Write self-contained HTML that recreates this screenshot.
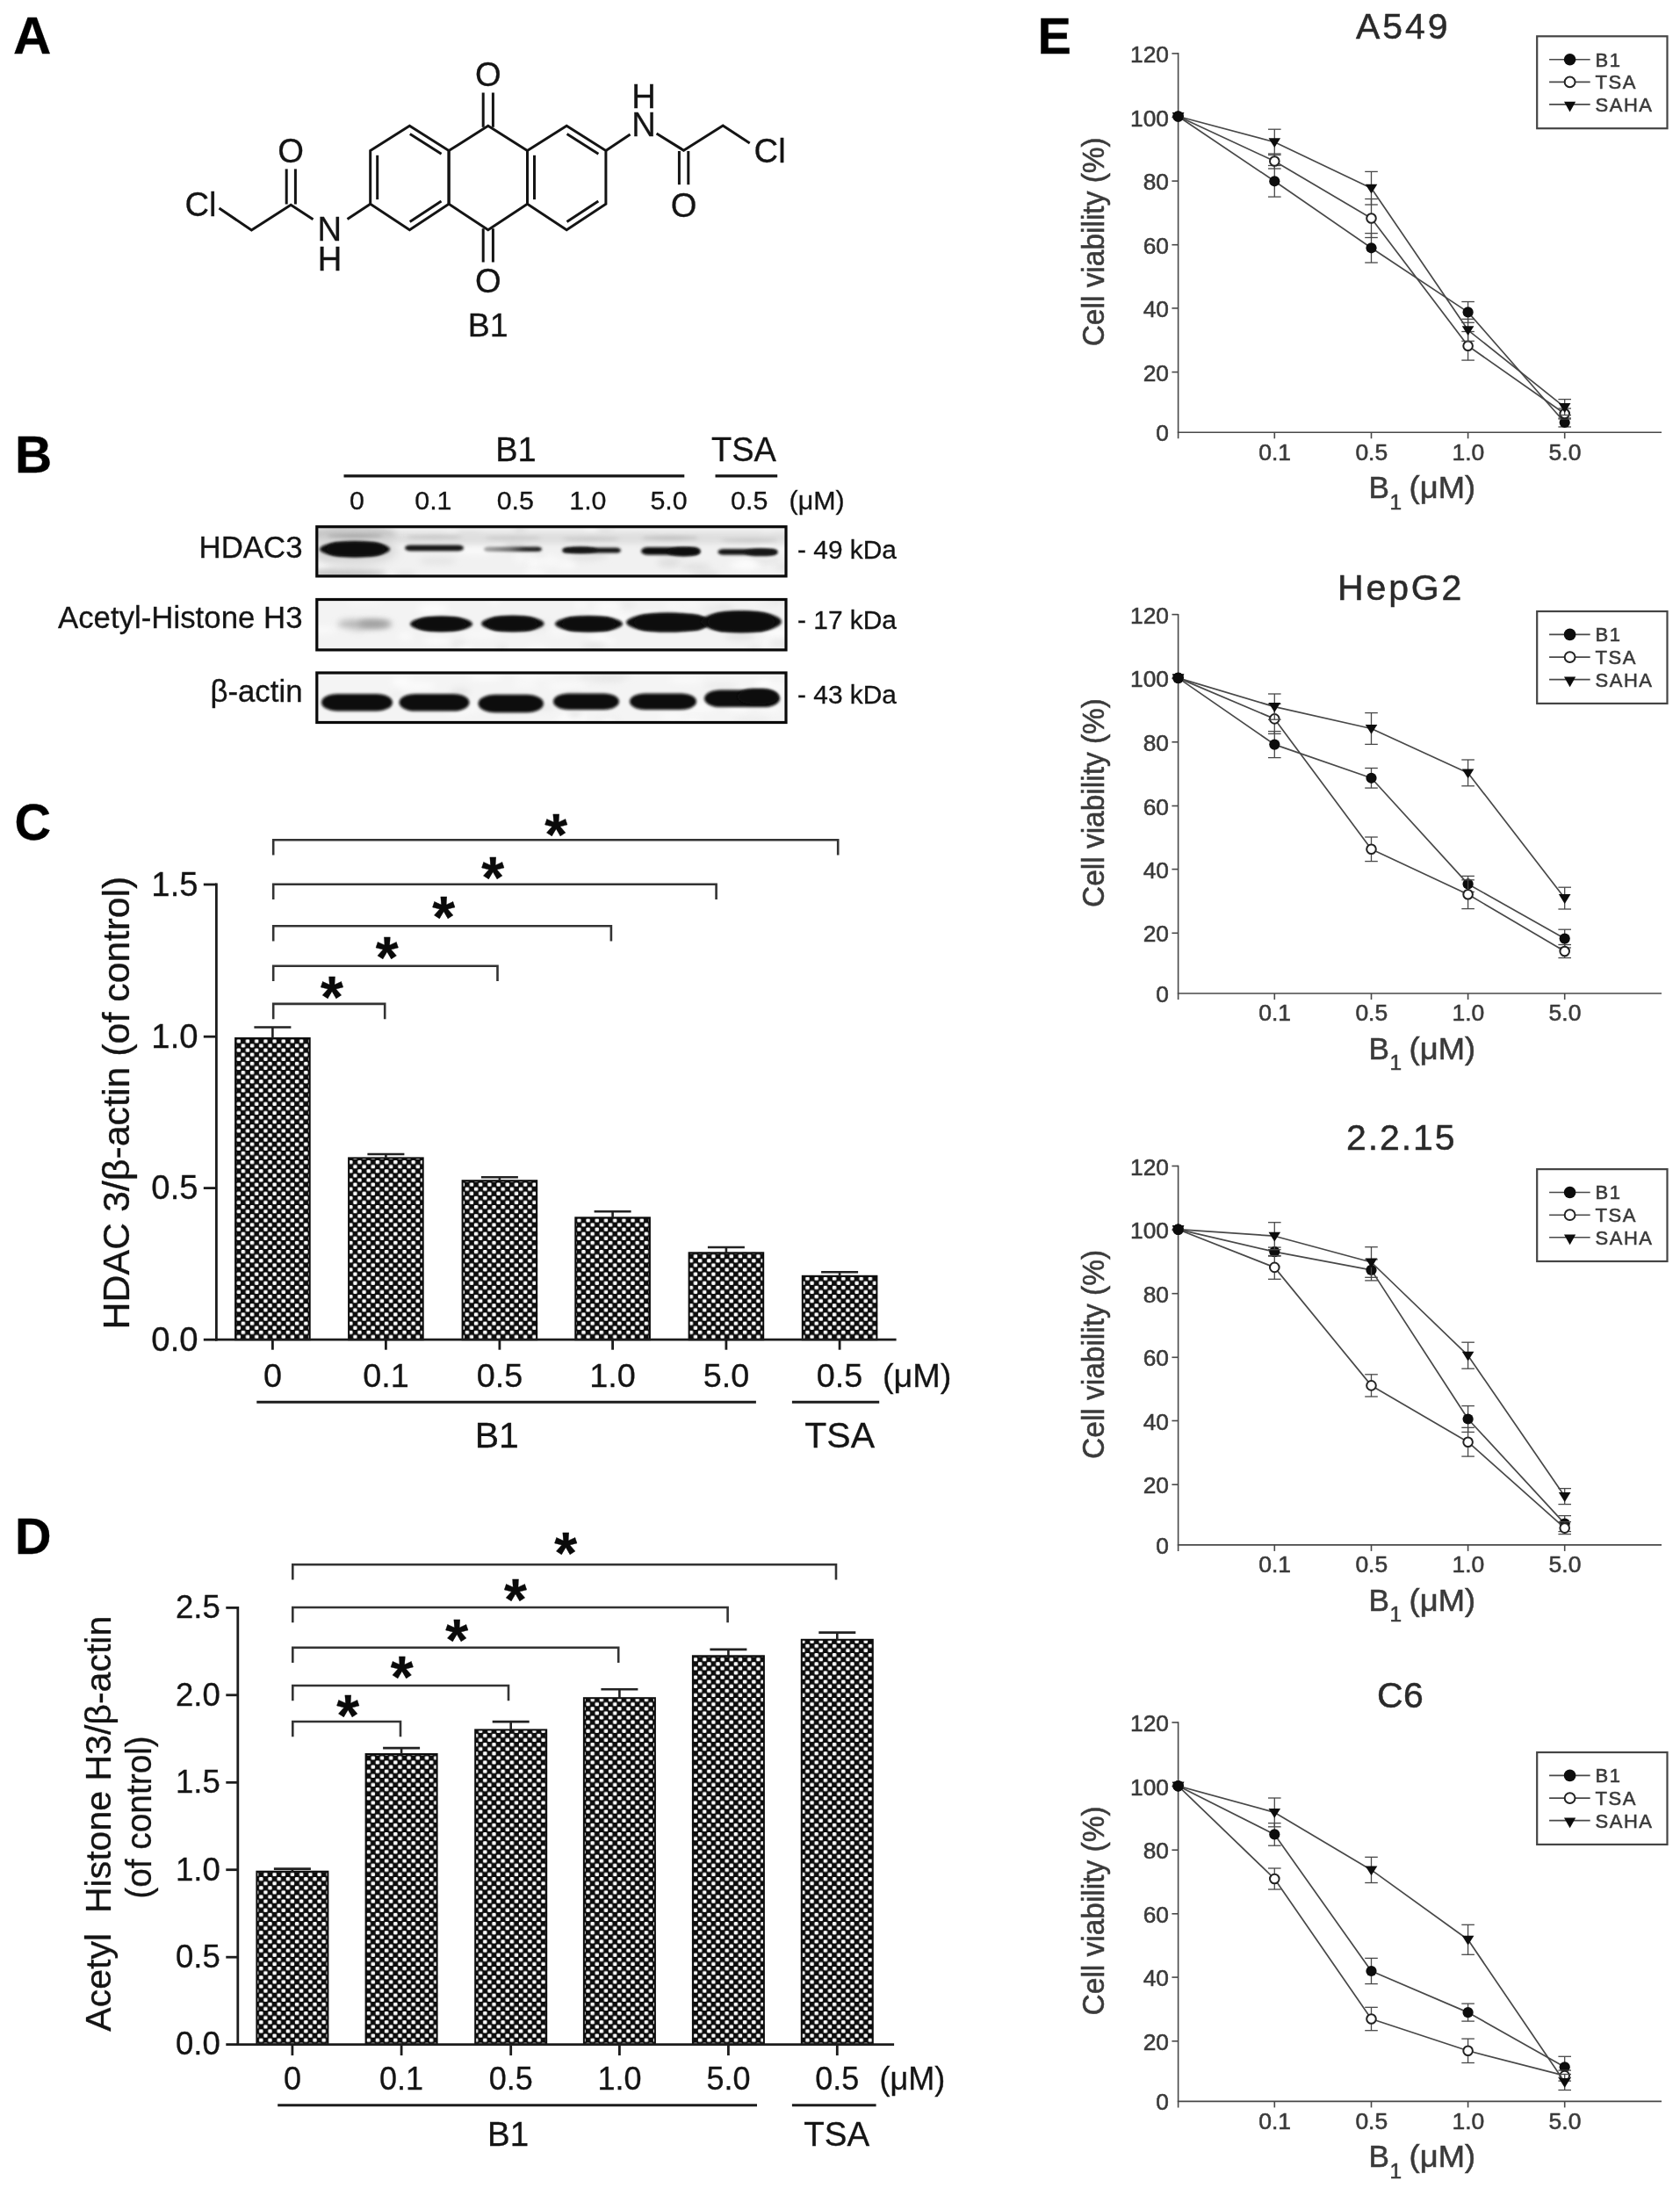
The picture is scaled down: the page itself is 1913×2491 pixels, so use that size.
<!DOCTYPE html>
<html lang="en"><head><meta charset="utf-8"><title>Figure</title>
<style>
html,body{margin:0;padding:0;background:#fff;}
body{width:1913px;height:2491px;overflow:hidden;}
svg{display:block;font-family:"Liberation Sans", sans-serif;}
</style></head><body>
<svg width="1913" height="2491" viewBox="0 0 1913 2491">
<defs>
<linearGradient id="gb3" x1="0" x2="1" y1="0" y2="0"><stop offset="0" stop-color="#a8a8a8"/><stop offset="0.45" stop-color="#707070"/><stop offset="0.7" stop-color="#2a2a2a"/><stop offset="1" stop-color="#222"/></linearGradient>
<filter id="soft" x="0" y="0" width="100%" height="100%" filterUnits="userSpaceOnUse" color-interpolation-filters="sRGB"><feGaussianBlur stdDeviation="0.55"/></filter>
<filter id="blur15" x="-20%" y="-100%" width="140%" height="300%"><feGaussianBlur stdDeviation="1.5"/></filter>
<filter id="blur16" x="-20%" y="-100%" width="140%" height="300%"><feGaussianBlur stdDeviation="1.6"/></filter>
<filter id="blur17" x="-20%" y="-100%" width="140%" height="300%"><feGaussianBlur stdDeviation="1.7"/></filter>
<filter id="blur18" x="-20%" y="-100%" width="140%" height="300%"><feGaussianBlur stdDeviation="1.8"/></filter>
<filter id="blur20" x="-20%" y="-100%" width="140%" height="300%"><feGaussianBlur stdDeviation="2.0"/></filter>
<filter id="blur22" x="-20%" y="-100%" width="140%" height="300%"><feGaussianBlur stdDeviation="2.2"/></filter>
<filter id="blur35" x="-20%" y="-100%" width="140%" height="300%"><feGaussianBlur stdDeviation="3.5"/></filter>
<filter id="blur60" x="-20%" y="-100%" width="140%" height="300%"><feGaussianBlur stdDeviation="6.0"/></filter>
<pattern id="chk" x="269.25" y="1182.85" width="10.2" height="10.2" patternUnits="userSpaceOnUse"><rect width="10.2" height="10.2" fill="#0d0d0d"/><rect x="0.35" y="0.35" width="4.4" height="4.4" rx="1.3" fill="#fafafa"/><rect x="5.45" y="5.45" width="4.4" height="4.4" rx="1.3" fill="#fafafa"/></pattern>
</defs>
<rect width="1913" height="2491" fill="#fff"/>
<g filter="url(#soft)">
<text x="15.0" y="61.2" font-size="60" text-anchor="start" font-weight="bold" fill="#000" stroke="#000" stroke-width="0.3" >A</text>
<g stroke="#141414" stroke-width="3.0" stroke-linecap="butt" stroke-linejoin="miter" stroke-miterlimit="6" fill="none">
<path d="M421.7 171.6 L466.4 143.3 L511.1 171.6 L511.1 232.3 L466.4 261.7 L421.7 232.3 Z"/>
<path d="M511.1 171.6 L555.8 143.3 L600.5 171.6 L600.5 232.3 L555.8 261.7 L511.1 232.3 Z"/>
<path d="M600.5 171.6 L645.2 143.3 L689.9 171.6 L689.9 232.3 L645.2 261.7 L600.5 232.3 Z"/>
<path d="M429.7 176.8 L429.7 227.1"/>
<path d="M466.8 152.6 L502.6 175.2"/>
<path d="M466.7 252.4 L502.5 228.9"/>
<path d="M608.5 176.8 L608.5 227.1"/>
<path d="M645.6 152.6 L681.4 175.2"/>
<path d="M645.5 252.4 L681.3 228.9"/>
<path d="M550.2 144.8 L550.2 105.5"/>
<path d="M561.4 144.8 L561.4 105.5"/>
<path d="M550.2 260.2 L550.2 298.5"/>
<path d="M561.4 260.2 L561.4 298.5"/>
<path d="M421.7 232.3 L395.5 249.5"/>
<path d="M356.5 249.8 L331.2 233.2 L286.4 262.0 L249.5 237.0"/>
<path d="M326.2 232.5 L326.2 192.4"/>
<path d="M336.4 232.5 L336.4 192.4"/>
<path d="M689.9 171.6 L717.6 153.0"/>
<path d="M747.6 152.0 L778.5 171.2 L823.2 143.0 L853.7 163.0"/>
<path d="M773.4 172.0 L773.4 210.2"/>
<path d="M783.8 172.0 L783.8 210.2"/>
</g>
<text x="555.8" y="97.7" font-size="38.2" text-anchor="middle" font-weight="normal" fill="#141414" stroke="#141414" stroke-width="0.3" >O</text>
<text x="555.8" y="332.5" font-size="38.2" text-anchor="middle" font-weight="normal" fill="#141414" stroke="#141414" stroke-width="0.3" >O</text>
<text x="331.0" y="184.7" font-size="38.2" text-anchor="middle" font-weight="normal" fill="#141414" stroke="#141414" stroke-width="0.3" >O</text>
<text x="375.4" y="274.1" font-size="38.2" text-anchor="middle" font-weight="normal" fill="#141414" stroke="#141414" stroke-width="0.3" >N</text>
<text x="375.6" y="307.9" font-size="38.2" text-anchor="middle" font-weight="normal" fill="#141414" stroke="#141414" stroke-width="0.3" >H</text>
<text x="228.5" y="245.5" font-size="38.2" text-anchor="middle" font-weight="normal" fill="#141414" stroke="#141414" stroke-width="0.3" >Cl</text>
<text x="733.0" y="155.1" font-size="38.2" text-anchor="middle" font-weight="normal" fill="#141414" stroke="#141414" stroke-width="0.3" >N</text>
<text x="733.0" y="122.7" font-size="38.2" text-anchor="middle" font-weight="normal" fill="#141414" stroke="#141414" stroke-width="0.3" >H</text>
<text x="778.5" y="246.7" font-size="38.2" text-anchor="middle" font-weight="normal" fill="#141414" stroke="#141414" stroke-width="0.3" >O</text>
<text x="876.6" y="184.6" font-size="38.2" text-anchor="middle" font-weight="normal" fill="#141414" stroke="#141414" stroke-width="0.3" >Cl</text>
<text x="555.6" y="382.8" font-size="37.5" text-anchor="middle" font-weight="normal" fill="#141414" stroke="#141414" stroke-width="0.3" >B1</text>
<text x="17.0" y="537.8" font-size="58.5" text-anchor="start" font-weight="bold" fill="#000" stroke="#000" stroke-width="0.3" >B</text>
<text x="587.5" y="525.0" font-size="38" text-anchor="middle" font-weight="normal" fill="#141414" stroke="#141414" stroke-width="0.3" >B1</text>
<text x="847.0" y="525.0" font-size="38" text-anchor="middle" font-weight="normal" fill="#141414" stroke="#141414" stroke-width="0.3" >TSA</text>
<line x1="391.5" y1="541.9" x2="779.3" y2="541.9" stroke="#141414" stroke-width="3.2" stroke-linecap="butt"/>
<line x1="814.5" y1="541.9" x2="885.2" y2="541.9" stroke="#141414" stroke-width="3.2" stroke-linecap="butt"/>
<text x="406.4" y="579.5" font-size="30.4" text-anchor="middle" font-weight="normal" fill="#141414" stroke="#141414" stroke-width="0.3" >0</text>
<text x="493.4" y="579.5" font-size="30.4" text-anchor="middle" font-weight="normal" fill="#141414" stroke="#141414" stroke-width="0.3" >0.1</text>
<text x="586.8" y="579.5" font-size="30.4" text-anchor="middle" font-weight="normal" fill="#141414" stroke="#141414" stroke-width="0.3" >0.5</text>
<text x="669.4" y="579.5" font-size="30.4" text-anchor="middle" font-weight="normal" fill="#141414" stroke="#141414" stroke-width="0.3" >1.0</text>
<text x="761.5" y="579.5" font-size="30.4" text-anchor="middle" font-weight="normal" fill="#141414" stroke="#141414" stroke-width="0.3" >5.0</text>
<text x="853.2" y="579.5" font-size="30.4" text-anchor="middle" font-weight="normal" fill="#141414" stroke="#141414" stroke-width="0.3" >0.5</text>
<text x="898.6" y="579.5" font-size="30.4" text-anchor="start" font-weight="normal" fill="#141414" stroke="#141414" stroke-width="0.3" >(μM)</text>
<text x="344.5" y="635.4" font-size="34.8" text-anchor="end" font-weight="normal" fill="#141414" stroke="#141414" stroke-width="0.3" >HDAC3</text>
<text x="344.5" y="715.3" font-size="34.8" text-anchor="end" font-weight="normal" fill="#141414" stroke="#141414" stroke-width="0.3" >Acetyl-Histone H3</text>
<text x="344.5" y="798.9" font-size="34.8" text-anchor="end" font-weight="normal" fill="#141414" stroke="#141414" stroke-width="0.3" >β-actin</text>
<text x="908.0" y="635.5" font-size="29.9" text-anchor="start" font-weight="normal" fill="#141414" stroke="#141414" stroke-width="0.3" >- 49 kDa</text>
<text x="908.0" y="716.2" font-size="29.9" text-anchor="start" font-weight="normal" fill="#141414" stroke="#141414" stroke-width="0.3" >- 17 kDa</text>
<text x="908.0" y="801.2" font-size="29.9" text-anchor="start" font-weight="normal" fill="#141414" stroke="#141414" stroke-width="0.3" >- 43 kDa</text>
<clipPath id="clipb1"><rect x="359.2" y="598.1" width="537.4000000000001" height="59.4"/></clipPath>
<clipPath id="clipb2"><rect x="359.2" y="680.9" width="537.4000000000001" height="60.6"/></clipPath>
<clipPath id="clipb3"><rect x="359.2" y="764.4" width="537.4000000000001" height="59.7"/></clipPath>
<rect x="359.2" y="598.1" width="537.4" height="59.4" fill="#f1f1f1"/>
<g clip-path="url(#clipb1)">
<ellipse cx="533.2" cy="608.5" rx="16.4" ry="2.8" fill="#dedede" filter="url(#blur35)"/>
<ellipse cx="409.8" cy="632.4" rx="20.6" ry="3.3" fill="#fafafa" filter="url(#blur35)"/>
<ellipse cx="592.2" cy="604.0" rx="7.5" ry="4.0" fill="#dedede" filter="url(#blur35)"/>
<ellipse cx="425.7" cy="612.5" rx="16.0" ry="5.8" fill="#dedede" filter="url(#blur35)"/>
<ellipse cx="673.9" cy="602.8" rx="9.5" ry="4.4" fill="#fcfcfc" filter="url(#blur35)"/>
<ellipse cx="514.8" cy="608.1" rx="7.9" ry="3.6" fill="#fcfcfc" filter="url(#blur35)"/>
<ellipse cx="414.6" cy="631.7" rx="9.0" ry="2.8" fill="#fafafa" filter="url(#blur35)"/>
<ellipse cx="662.5" cy="634.4" rx="13.9" ry="4.4" fill="#e4e4e4" filter="url(#blur35)"/>
<ellipse cx="609.4" cy="651.3" rx="11.8" ry="3.4" fill="#fcfcfc" filter="url(#blur35)"/>
<ellipse cx="734.8" cy="613.6" rx="15.2" ry="4.3" fill="#e4e4e4" filter="url(#blur35)"/>
<ellipse cx="751.2" cy="616.1" rx="21.7" ry="2.9" fill="#f7f7f7" filter="url(#blur35)"/>
<ellipse cx="447.9" cy="619.0" rx="20.9" ry="4.0" fill="#fafafa" filter="url(#blur35)"/>
<ellipse cx="770.1" cy="631.8" rx="20.0" ry="3.6" fill="#e4e4e4" filter="url(#blur35)"/>
<ellipse cx="678.6" cy="632.2" rx="13.3" ry="5.4" fill="#e4e4e4" filter="url(#blur35)"/>
<ellipse cx="614.0" cy="636.9" rx="7.0" ry="5.0" fill="#dedede" filter="url(#blur35)"/>
<ellipse cx="892.9" cy="645.6" rx="10.6" ry="3.9" fill="#e4e4e4" filter="url(#blur35)"/>
<ellipse cx="371.3" cy="625.7" rx="8.7" ry="2.9" fill="#fafafa" filter="url(#blur35)"/>
<ellipse cx="476.5" cy="616.0" rx="17.8" ry="3.9" fill="#f7f7f7" filter="url(#blur35)"/>
<ellipse cx="402.5" cy="625.0" rx="14.8" ry="5.6" fill="#f7f7f7" filter="url(#blur35)"/>
<ellipse cx="823.5" cy="615.5" rx="12.6" ry="3.8" fill="#f7f7f7" filter="url(#blur35)"/>
<ellipse cx="873.9" cy="608.5" rx="8.8" ry="3.3" fill="#fcfcfc" filter="url(#blur35)"/>
<ellipse cx="365.7" cy="646.1" rx="8.9" ry="3.5" fill="#fcfcfc" filter="url(#blur35)"/>
<ellipse cx="584.3" cy="620.6" rx="15.1" ry="5.8" fill="#dedede" filter="url(#blur35)"/>
<ellipse cx="869.9" cy="636.4" rx="17.8" ry="4.1" fill="#dedede" filter="url(#blur35)"/>
<ellipse cx="570.1" cy="622.2" rx="7.7" ry="4.7" fill="#fafafa" filter="url(#blur35)"/>
<ellipse cx="461.6" cy="654.7" rx="13.1" ry="2.9" fill="#dedede" filter="url(#blur35)"/>
<ellipse cx="387.5" cy="600.1" rx="8.4" ry="2.9" fill="#e4e4e4" filter="url(#blur35)"/>
<ellipse cx="689.0" cy="604.0" rx="9.3" ry="3.8" fill="#e4e4e4" filter="url(#blur35)"/>
<ellipse cx="872.7" cy="633.5" rx="13.6" ry="2.9" fill="#f7f7f7" filter="url(#blur35)"/>
<ellipse cx="892.9" cy="625.9" rx="13.7" ry="2.8" fill="#fafafa" filter="url(#blur35)"/>
<ellipse cx="762.1" cy="641.1" rx="13.7" ry="4.9" fill="#dedede" filter="url(#blur35)"/>
<ellipse cx="371.6" cy="652.8" rx="14.5" ry="3.0" fill="#dedede" filter="url(#blur35)"/>
<ellipse cx="850.5" cy="642.1" rx="10.8" ry="4.8" fill="#fafafa" filter="url(#blur35)"/>
<ellipse cx="733.3" cy="614.6" rx="11.9" ry="3.1" fill="#fcfcfc" filter="url(#blur35)"/>
<ellipse cx="645.4" cy="643.3" rx="11.3" ry="3.3" fill="#fcfcfc" filter="url(#blur35)"/>
<ellipse cx="792.4" cy="645.4" rx="17.8" ry="3.3" fill="#dedede" filter="url(#blur35)"/>
<ellipse cx="624.0" cy="640.6" rx="21.8" ry="5.3" fill="#f7f7f7" filter="url(#blur35)"/>
<ellipse cx="498.5" cy="638.5" rx="21.3" ry="4.1" fill="#e4e4e4" filter="url(#blur35)"/>
<ellipse cx="872.4" cy="620.3" rx="9.5" ry="3.3" fill="#fcfcfc" filter="url(#blur35)"/>
<ellipse cx="540.7" cy="626.8" rx="21.8" ry="4.6" fill="#fafafa" filter="url(#blur35)"/>
<ellipse cx="616.9" cy="636.3" rx="18.8" ry="2.8" fill="#fafafa" filter="url(#blur35)"/>
<ellipse cx="848.1" cy="643.4" rx="18.0" ry="4.2" fill="#fcfcfc" filter="url(#blur35)"/>
<ellipse cx="592.4" cy="635.3" rx="7.4" ry="5.8" fill="#f7f7f7" filter="url(#blur35)"/>
<ellipse cx="608.1" cy="641.3" rx="7.4" ry="3.1" fill="#fcfcfc" filter="url(#blur35)"/>
<ellipse cx="374.0" cy="632.8" rx="13.4" ry="4.8" fill="#dedede" filter="url(#blur35)"/>
<ellipse cx="803.4" cy="654.4" rx="16.5" ry="3.7" fill="#dedede" filter="url(#blur35)"/>
<rect x="350.0" y="606.0" width="550.0" height="13.0" rx="12.3" ry="6.5" fill="#dedede" filter="url(#blur35)"/>
<ellipse cx="401.0" cy="608.0" rx="51.0" ry="8.0" fill="#c4c4c4" filter="url(#blur35)"/>
<ellipse cx="396.0" cy="653.0" rx="44.0" ry="5.0" fill="#c2c2c2" filter="url(#blur35)"/>
<ellipse cx="404.0" cy="626.0" rx="48.0" ry="17.0" fill="#d6d6d6" filter="url(#blur60)"/>
<ellipse cx="404.0" cy="610.0" rx="32.0" ry="2.2" fill="#a6a6a6" filter="url(#blur22)"/>
<ellipse cx="494.5" cy="611.5" rx="32.5" ry="2.0" fill="#c6c6c6" filter="url(#blur22)"/>
<ellipse cx="584.5" cy="612.5" rx="32.5" ry="2.0" fill="#cacaca" filter="url(#blur22)"/>
<ellipse cx="673.0" cy="613.5" rx="33.0" ry="2.0" fill="#c8c8c8" filter="url(#blur22)"/>
<ellipse cx="763.0" cy="612.5" rx="33.0" ry="2.2" fill="#c0c0c0" filter="url(#blur22)"/>
<ellipse cx="853.0" cy="615.0" rx="33.0" ry="2.0" fill="#c8c8c8" filter="url(#blur22)"/>
<ellipse cx="404.0" cy="625.2" rx="40.0" ry="9.2" fill="#0a0a0a" filter="url(#blur16)"/>
<rect x="372.0" y="618.0" width="66.0" height="14.5" rx="13.8" ry="7.2" fill="#0a0a0a" filter="url(#blur16)"/>
<rect x="461.0" y="620.6" width="67.0" height="6.6" rx="6.3" ry="3.3" fill="#141414" filter="url(#blur15)"/>
<rect x="551.0" y="622.4" width="66.0" height="5.6" rx="5.3" ry="2.8" fill="url(#gb3)" filter="url(#blur15)"/>
<rect x="640.0" y="623.6" width="67.0" height="6.0" rx="5.7" ry="3.0" fill="#161616" filter="url(#blur15)"/>
<ellipse cx="661.0" cy="626.2" rx="19.0" ry="3.6" fill="#161616" filter="url(#blur15)"/>
<rect x="730.0" y="623.1" width="67.5" height="8.6" rx="8.2" ry="4.3" fill="#0c0c0c" filter="url(#blur15)"/>
<ellipse cx="778.5" cy="628.2" rx="18.5" ry="5.0" fill="#0c0c0c" filter="url(#blur15)"/>
<rect x="817.5" y="625.1" width="68.0" height="6.6" rx="6.3" ry="3.3" fill="#121212" filter="url(#blur15)"/>
<ellipse cx="866.5" cy="628.8" rx="18.5" ry="4.0" fill="#121212" filter="url(#blur15)"/>
</g>
<rect x="360.8" y="599.7" width="534.2" height="56.2" fill="none" stroke="#0a0a0a" stroke-width="3.2"/>
<rect x="359.2" y="680.9" width="537.4" height="60.6" fill="#f3f3f3"/>
<g clip-path="url(#clipb2)">
<ellipse cx="602.3" cy="714.6" rx="20.8" ry="4.1" fill="#e9e9e9" filter="url(#blur35)"/>
<ellipse cx="818.7" cy="693.6" rx="18.9" ry="4.2" fill="#e9e9e9" filter="url(#blur35)"/>
<ellipse cx="785.3" cy="688.2" rx="10.9" ry="2.8" fill="#fafafa" filter="url(#blur35)"/>
<ellipse cx="679.2" cy="705.3" rx="13.2" ry="5.1" fill="#fcfcfc" filter="url(#blur35)"/>
<ellipse cx="694.1" cy="730.0" rx="7.0" ry="2.6" fill="#fcfcfc" filter="url(#blur35)"/>
<ellipse cx="681.4" cy="726.9" rx="11.2" ry="4.6" fill="#fcfcfc" filter="url(#blur35)"/>
<ellipse cx="638.2" cy="719.1" rx="14.0" ry="4.8" fill="#f8f8f8" filter="url(#blur35)"/>
<ellipse cx="711.1" cy="705.9" rx="14.8" ry="5.8" fill="#fafafa" filter="url(#blur35)"/>
<ellipse cx="739.6" cy="700.7" rx="9.7" ry="3.5" fill="#fafafa" filter="url(#blur35)"/>
<ellipse cx="661.8" cy="689.0" rx="7.7" ry="3.5" fill="#fafafa" filter="url(#blur35)"/>
<ellipse cx="874.1" cy="730.9" rx="6.0" ry="3.2" fill="#fafafa" filter="url(#blur35)"/>
<ellipse cx="611.8" cy="738.4" rx="12.4" ry="2.8" fill="#fcfcfc" filter="url(#blur35)"/>
<ellipse cx="777.6" cy="698.2" rx="7.4" ry="3.7" fill="#f8f8f8" filter="url(#blur35)"/>
<ellipse cx="766.6" cy="689.6" rx="9.9" ry="2.9" fill="#fafafa" filter="url(#blur35)"/>
<ellipse cx="609.1" cy="710.5" rx="16.9" ry="3.2" fill="#e9e9e9" filter="url(#blur35)"/>
<ellipse cx="461.7" cy="724.3" rx="8.1" ry="4.8" fill="#fafafa" filter="url(#blur35)"/>
<ellipse cx="571.4" cy="738.9" rx="6.0" ry="5.5" fill="#e9e9e9" filter="url(#blur35)"/>
<ellipse cx="522.6" cy="733.0" rx="9.4" ry="3.9" fill="#e9e9e9" filter="url(#blur35)"/>
<ellipse cx="704.1" cy="688.6" rx="21.8" ry="3.2" fill="#e6e6e6" filter="url(#blur35)"/>
<ellipse cx="364.3" cy="717.4" rx="19.3" ry="3.9" fill="#fafafa" filter="url(#blur35)"/>
<ellipse cx="407.6" cy="715.9" rx="9.9" ry="4.6" fill="#e6e6e6" filter="url(#blur35)"/>
<ellipse cx="693.5" cy="690.1" rx="15.4" ry="5.4" fill="#fcfcfc" filter="url(#blur35)"/>
<ellipse cx="824.9" cy="693.2" rx="8.5" ry="5.7" fill="#e9e9e9" filter="url(#blur35)"/>
<ellipse cx="493.3" cy="693.6" rx="17.8" ry="5.8" fill="#fcfcfc" filter="url(#blur35)"/>
<ellipse cx="728.4" cy="704.9" rx="13.7" ry="2.8" fill="#fafafa" filter="url(#blur35)"/>
<ellipse cx="415.0" cy="685.1" rx="21.4" ry="3.3" fill="#f8f8f8" filter="url(#blur35)"/>
<ellipse cx="497.3" cy="729.5" rx="15.5" ry="3.5" fill="#fcfcfc" filter="url(#blur35)"/>
<ellipse cx="858.6" cy="738.2" rx="8.0" ry="4.2" fill="#e9e9e9" filter="url(#blur35)"/>
<ellipse cx="689.3" cy="698.8" rx="20.7" ry="3.2" fill="#fafafa" filter="url(#blur35)"/>
<ellipse cx="396.4" cy="706.2" rx="10.0" ry="2.7" fill="#e6e6e6" filter="url(#blur35)"/>
<ellipse cx="557.4" cy="715.3" rx="8.1" ry="3.8" fill="#f8f8f8" filter="url(#blur35)"/>
<ellipse cx="886.1" cy="720.1" rx="17.1" ry="4.5" fill="#fcfcfc" filter="url(#blur35)"/>
<ellipse cx="676.2" cy="735.2" rx="13.6" ry="3.8" fill="#e6e6e6" filter="url(#blur35)"/>
<ellipse cx="876.6" cy="684.1" rx="16.2" ry="4.2" fill="#e6e6e6" filter="url(#blur35)"/>
<ellipse cx="530.6" cy="739.5" rx="7.2" ry="4.4" fill="#fafafa" filter="url(#blur35)"/>
<ellipse cx="843.0" cy="724.6" rx="17.3" ry="5.3" fill="#e6e6e6" filter="url(#blur35)"/>
<ellipse cx="548.3" cy="721.7" rx="20.4" ry="5.5" fill="#f8f8f8" filter="url(#blur35)"/>
<ellipse cx="866.6" cy="684.6" rx="14.0" ry="2.6" fill="#f8f8f8" filter="url(#blur35)"/>
<ellipse cx="563.0" cy="683.6" rx="7.2" ry="2.8" fill="#fafafa" filter="url(#blur35)"/>
<ellipse cx="893.0" cy="732.7" rx="17.7" ry="3.9" fill="#e9e9e9" filter="url(#blur35)"/>
<ellipse cx="415.5" cy="710.6" rx="31.5" ry="5.0" fill="#b4b4b4" filter="url(#blur35)"/>
<ellipse cx="426.0" cy="710.2" rx="18.0" ry="4.0" fill="#9c9c9c" filter="url(#blur35)"/>
<ellipse cx="502.5" cy="710.4" rx="35.5" ry="8.8" fill="#0a0a0a" filter="url(#blur17)"/>
<rect x="474.0" y="703.6" width="57.0" height="14.0" rx="13.3" ry="7.0" fill="#0a0a0a" filter="url(#blur17)"/>
<ellipse cx="583.8" cy="710.0" rx="35.8" ry="9.2" fill="#0a0a0a" filter="url(#blur17)"/>
<rect x="555.0" y="702.7" width="57.0" height="15.0" rx="14.2" ry="7.5" fill="#0a0a0a" filter="url(#blur17)"/>
<ellipse cx="670.5" cy="710.2" rx="38.5" ry="9.2" fill="#0a0a0a" filter="url(#blur17)"/>
<rect x="640.0" y="702.9" width="61.0" height="15.0" rx="14.2" ry="7.5" fill="#0a0a0a" filter="url(#blur17)"/>
<ellipse cx="760.5" cy="708.6" rx="47.5" ry="11.0" fill="#0a0a0a" filter="url(#blur17)"/>
<rect x="722.0" y="699.8" width="84.0" height="18.0" rx="17.1" ry="9.0" fill="#0a0a0a" filter="url(#blur17)"/>
<ellipse cx="844.0" cy="707.8" rx="46.0" ry="12.5" fill="#0a0a0a" filter="url(#blur17)"/>
<rect x="806.0" y="697.5" width="76.0" height="21.0" rx="19.9" ry="10.5" fill="#0a0a0a" filter="url(#blur17)"/>
</g>
<rect x="360.8" y="682.5" width="534.2" height="57.4" fill="none" stroke="#0a0a0a" stroke-width="3.2"/>
<rect x="359.2" y="764.4" width="537.4" height="59.7" fill="#f4f4f4"/>
<g clip-path="url(#clipb3)">
<ellipse cx="856.2" cy="819.2" rx="20.3" ry="2.8" fill="#ebebeb" filter="url(#blur35)"/>
<ellipse cx="524.0" cy="787.5" rx="11.7" ry="5.0" fill="#e8e8e8" filter="url(#blur35)"/>
<ellipse cx="598.1" cy="778.7" rx="13.3" ry="2.6" fill="#fbfbfb" filter="url(#blur35)"/>
<ellipse cx="886.5" cy="794.2" rx="6.3" ry="4.7" fill="#f9f9f9" filter="url(#blur35)"/>
<ellipse cx="552.1" cy="769.6" rx="18.5" ry="4.6" fill="#fdfdfd" filter="url(#blur35)"/>
<ellipse cx="692.9" cy="820.5" rx="11.8" ry="5.2" fill="#e8e8e8" filter="url(#blur35)"/>
<ellipse cx="879.7" cy="782.1" rx="21.6" ry="4.5" fill="#f9f9f9" filter="url(#blur35)"/>
<ellipse cx="454.7" cy="793.3" rx="18.7" ry="4.9" fill="#fdfdfd" filter="url(#blur35)"/>
<ellipse cx="457.0" cy="776.3" rx="11.2" ry="5.4" fill="#fdfdfd" filter="url(#blur35)"/>
<ellipse cx="672.1" cy="771.0" rx="12.8" ry="4.5" fill="#ebebeb" filter="url(#blur35)"/>
<ellipse cx="510.0" cy="799.3" rx="7.7" ry="5.7" fill="#ebebeb" filter="url(#blur35)"/>
<ellipse cx="523.0" cy="809.7" rx="14.8" ry="3.4" fill="#fbfbfb" filter="url(#blur35)"/>
<ellipse cx="692.2" cy="773.1" rx="18.7" ry="4.2" fill="#e8e8e8" filter="url(#blur35)"/>
<ellipse cx="652.3" cy="817.6" rx="15.5" ry="5.8" fill="#fdfdfd" filter="url(#blur35)"/>
<ellipse cx="600.7" cy="768.3" rx="16.1" ry="3.9" fill="#fdfdfd" filter="url(#blur35)"/>
<ellipse cx="794.3" cy="804.7" rx="21.6" ry="5.3" fill="#fbfbfb" filter="url(#blur35)"/>
<ellipse cx="648.6" cy="821.4" rx="18.0" ry="3.7" fill="#f9f9f9" filter="url(#blur35)"/>
<ellipse cx="622.8" cy="768.5" rx="10.2" ry="4.4" fill="#f9f9f9" filter="url(#blur35)"/>
<ellipse cx="870.0" cy="778.4" rx="7.7" ry="4.4" fill="#fdfdfd" filter="url(#blur35)"/>
<ellipse cx="730.3" cy="797.5" rx="9.8" ry="2.9" fill="#fdfdfd" filter="url(#blur35)"/>
<ellipse cx="843.3" cy="791.2" rx="11.5" ry="5.6" fill="#fdfdfd" filter="url(#blur35)"/>
<ellipse cx="840.3" cy="804.7" rx="12.6" ry="4.9" fill="#fdfdfd" filter="url(#blur35)"/>
<ellipse cx="652.5" cy="790.1" rx="10.8" ry="5.5" fill="#ebebeb" filter="url(#blur35)"/>
<ellipse cx="654.7" cy="812.4" rx="7.7" ry="4.7" fill="#e8e8e8" filter="url(#blur35)"/>
<ellipse cx="877.8" cy="807.0" rx="12.9" ry="3.1" fill="#fbfbfb" filter="url(#blur35)"/>
<ellipse cx="540.8" cy="804.8" rx="7.8" ry="5.6" fill="#f9f9f9" filter="url(#blur35)"/>
<ellipse cx="788.9" cy="821.4" rx="10.4" ry="3.7" fill="#fbfbfb" filter="url(#blur35)"/>
<ellipse cx="781.4" cy="774.3" rx="19.9" ry="3.2" fill="#fbfbfb" filter="url(#blur35)"/>
<ellipse cx="452.3" cy="791.4" rx="12.8" ry="2.8" fill="#e8e8e8" filter="url(#blur35)"/>
<ellipse cx="617.2" cy="804.8" rx="14.6" ry="4.4" fill="#ebebeb" filter="url(#blur35)"/>
<ellipse cx="645.3" cy="781.2" rx="21.9" ry="3.3" fill="#fbfbfb" filter="url(#blur35)"/>
<ellipse cx="823.2" cy="794.1" rx="18.4" ry="4.9" fill="#ebebeb" filter="url(#blur35)"/>
<ellipse cx="580.5" cy="804.3" rx="12.5" ry="5.3" fill="#e8e8e8" filter="url(#blur35)"/>
<ellipse cx="874.9" cy="785.4" rx="12.2" ry="4.0" fill="#f9f9f9" filter="url(#blur35)"/>
<ellipse cx="765.4" cy="815.6" rx="14.6" ry="4.9" fill="#f9f9f9" filter="url(#blur35)"/>
<ellipse cx="476.0" cy="781.1" rx="19.6" ry="4.3" fill="#fbfbfb" filter="url(#blur35)"/>
<ellipse cx="692.6" cy="821.5" rx="10.4" ry="5.2" fill="#fbfbfb" filter="url(#blur35)"/>
<ellipse cx="820.4" cy="780.8" rx="19.6" ry="3.4" fill="#ebebeb" filter="url(#blur35)"/>
<ellipse cx="700.0" cy="768.8" rx="18.9" ry="3.5" fill="#e8e8e8" filter="url(#blur35)"/>
<ellipse cx="663.0" cy="801.0" rx="18.5" ry="3.1" fill="#ebebeb" filter="url(#blur35)"/>
<rect x="366.0" y="789.9" width="81.0" height="19.5" rx="18.5" ry="9.8" fill="#0a0a0a" filter="url(#blur18)"/>
<rect x="454.5" y="790.0" width="80.0" height="19.5" rx="18.5" ry="9.8" fill="#0a0a0a" filter="url(#blur18)"/>
<rect x="544.5" y="790.8" width="74.5" height="20.5" rx="19.5" ry="10.2" fill="#0a0a0a" filter="url(#blur18)"/>
<rect x="630.0" y="789.4" width="75.0" height="18.5" rx="17.6" ry="9.2" fill="#0a0a0a" filter="url(#blur18)"/>
<rect x="717.0" y="789.4" width="76.0" height="18.5" rx="17.6" ry="9.2" fill="#0a0a0a" filter="url(#blur18)"/>
<rect x="802.0" y="785.5" width="86.0" height="19.5" rx="18.5" ry="9.8" fill="#0a0a0a" filter="url(#blur18)"/>
<rect x="840.0" y="784.0" width="46.0" height="18.0" rx="17.1" ry="9.0" fill="#0a0a0a" filter="url(#blur18)"/>
</g>
<rect x="360.8" y="766.0" width="534.2" height="56.5" fill="none" stroke="#0a0a0a" stroke-width="3.2"/>
<text x="16.5" y="955.6" font-size="57.5" text-anchor="start" font-weight="bold" fill="#000" stroke="#000" stroke-width="0.3" >C</text>
<rect x="268.1" y="1182.0" width="84.6" height="343.2" fill="url(#chk)" stroke="#0d0d0d" stroke-width="2.0"/>
<rect x="397.1" y="1318.4" width="84.6" height="206.8" fill="url(#chk)" stroke="#0d0d0d" stroke-width="2.0"/>
<rect x="526.6" y="1344.2" width="84.6" height="181.0" fill="url(#chk)" stroke="#0d0d0d" stroke-width="2.0"/>
<rect x="655.3" y="1386.3" width="84.6" height="138.9" fill="url(#chk)" stroke="#0d0d0d" stroke-width="2.0"/>
<rect x="784.6" y="1426.3" width="84.6" height="98.9" fill="url(#chk)" stroke="#0d0d0d" stroke-width="2.0"/>
<rect x="913.8" y="1452.8" width="84.6" height="72.4" fill="url(#chk)" stroke="#0d0d0d" stroke-width="2.0"/>
<line x1="310.4" y1="1169.5" x2="310.4" y2="1182.0" stroke="#222" stroke-width="2.6" stroke-linecap="butt"/>
<line x1="289.4" y1="1169.5" x2="331.4" y2="1169.5" stroke="#222" stroke-width="2.6" stroke-linecap="butt"/>
<line x1="439.4" y1="1314.0" x2="439.4" y2="1318.4" stroke="#222" stroke-width="2.6" stroke-linecap="butt"/>
<line x1="418.4" y1="1314.0" x2="460.4" y2="1314.0" stroke="#222" stroke-width="2.6" stroke-linecap="butt"/>
<line x1="568.9" y1="1340.3" x2="568.9" y2="1344.2" stroke="#222" stroke-width="2.6" stroke-linecap="butt"/>
<line x1="547.9" y1="1340.3" x2="589.9" y2="1340.3" stroke="#222" stroke-width="2.6" stroke-linecap="butt"/>
<line x1="697.6" y1="1379.2" x2="697.6" y2="1386.3" stroke="#222" stroke-width="2.6" stroke-linecap="butt"/>
<line x1="676.6" y1="1379.2" x2="718.6" y2="1379.2" stroke="#222" stroke-width="2.6" stroke-linecap="butt"/>
<line x1="826.9" y1="1420.0" x2="826.9" y2="1426.3" stroke="#222" stroke-width="2.6" stroke-linecap="butt"/>
<line x1="805.9" y1="1420.0" x2="847.9" y2="1420.0" stroke="#222" stroke-width="2.6" stroke-linecap="butt"/>
<line x1="956.1" y1="1448.2" x2="956.1" y2="1452.8" stroke="#222" stroke-width="2.6" stroke-linecap="butt"/>
<line x1="935.1" y1="1448.2" x2="977.1" y2="1448.2" stroke="#222" stroke-width="2.6" stroke-linecap="butt"/>
<line x1="246.4" y1="1005.6" x2="246.4" y2="1526.6" stroke="#1c1c1c" stroke-width="2.8" stroke-linecap="butt"/>
<line x1="245.0" y1="1525.2" x2="1020.6" y2="1525.2" stroke="#1c1c1c" stroke-width="2.8" stroke-linecap="butt"/>
<line x1="231.8" y1="1007.0" x2="246.4" y2="1007.0" stroke="#1c1c1c" stroke-width="2.8" stroke-linecap="butt"/>
<text x="225.6" y="1019.5" font-size="38.3" text-anchor="end" font-weight="normal" fill="#141414" stroke="#141414" stroke-width="0.3" >1.5</text>
<line x1="231.8" y1="1180.2" x2="246.4" y2="1180.2" stroke="#1c1c1c" stroke-width="2.8" stroke-linecap="butt"/>
<text x="225.6" y="1192.7" font-size="38.3" text-anchor="end" font-weight="normal" fill="#141414" stroke="#141414" stroke-width="0.3" >1.0</text>
<line x1="231.8" y1="1352.6" x2="246.4" y2="1352.6" stroke="#1c1c1c" stroke-width="2.8" stroke-linecap="butt"/>
<text x="225.6" y="1365.1" font-size="38.3" text-anchor="end" font-weight="normal" fill="#141414" stroke="#141414" stroke-width="0.3" >0.5</text>
<line x1="231.8" y1="1525.2" x2="246.4" y2="1525.2" stroke="#1c1c1c" stroke-width="2.8" stroke-linecap="butt"/>
<text x="225.6" y="1537.7" font-size="38.3" text-anchor="end" font-weight="normal" fill="#141414" stroke="#141414" stroke-width="0.3" >0.0</text>
<line x1="310.4" y1="1525.2" x2="310.4" y2="1536.7" stroke="#1c1c1c" stroke-width="2.8" stroke-linecap="butt"/>
<line x1="439.4" y1="1525.2" x2="439.4" y2="1536.7" stroke="#1c1c1c" stroke-width="2.8" stroke-linecap="butt"/>
<line x1="568.9" y1="1525.2" x2="568.9" y2="1536.7" stroke="#1c1c1c" stroke-width="2.8" stroke-linecap="butt"/>
<line x1="697.6" y1="1525.2" x2="697.6" y2="1536.7" stroke="#1c1c1c" stroke-width="2.8" stroke-linecap="butt"/>
<line x1="826.9" y1="1525.2" x2="826.9" y2="1536.7" stroke="#1c1c1c" stroke-width="2.8" stroke-linecap="butt"/>
<line x1="956.1" y1="1525.2" x2="956.1" y2="1536.7" stroke="#1c1c1c" stroke-width="2.8" stroke-linecap="butt"/>
<text x="310.4" y="1578.6" font-size="37.8" text-anchor="middle" font-weight="normal" fill="#141414" stroke="#141414" stroke-width="0.3" >0</text>
<text x="439.4" y="1578.6" font-size="37.8" text-anchor="middle" font-weight="normal" fill="#141414" stroke="#141414" stroke-width="0.3" >0.1</text>
<text x="568.9" y="1578.6" font-size="37.8" text-anchor="middle" font-weight="normal" fill="#141414" stroke="#141414" stroke-width="0.3" >0.5</text>
<text x="697.6" y="1578.6" font-size="37.8" text-anchor="middle" font-weight="normal" fill="#141414" stroke="#141414" stroke-width="0.3" >1.0</text>
<text x="826.9" y="1578.6" font-size="37.8" text-anchor="middle" font-weight="normal" fill="#141414" stroke="#141414" stroke-width="0.3" >5.0</text>
<text x="956.1" y="1578.6" font-size="37.8" text-anchor="middle" font-weight="normal" fill="#141414" stroke="#141414" stroke-width="0.3" >0.5</text>
<text x="1005.0" y="1578.6" font-size="37.8" text-anchor="start" font-weight="normal" fill="#141414" stroke="#141414" stroke-width="0.3" >(μM)</text>
<line x1="292.3" y1="1596.2" x2="860.9" y2="1596.2" stroke="#1c1c1c" stroke-width="3.0" stroke-linecap="butt"/>
<line x1="901.9" y1="1596.2" x2="1001.2" y2="1596.2" stroke="#1c1c1c" stroke-width="3.0" stroke-linecap="butt"/>
<text x="565.8" y="1647.5" font-size="41" text-anchor="middle" font-weight="normal" fill="#141414" stroke="#141414" stroke-width="0.3" >B1</text>
<text x="956.2" y="1647.5" font-size="41" text-anchor="middle" font-weight="normal" fill="#141414" stroke="#141414" stroke-width="0.3" >TSA</text>
<polyline points="311.2,1160.2 311.2,1142.9 438.2,1142.9 438.2,1160.2" fill="none" stroke="#333" stroke-width="2.6" stroke-linejoin="miter"/>
<polyline points="311.2,1117.0 311.2,1099.7 566.5,1099.7 566.5,1117.0" fill="none" stroke="#333" stroke-width="2.6" stroke-linejoin="miter"/>
<polyline points="311.2,1071.5 311.2,1054.2 695.9,1054.2 695.9,1071.5" fill="none" stroke="#333" stroke-width="2.6" stroke-linejoin="miter"/>
<polyline points="311.2,1024.1 311.2,1006.8 815.6,1006.8 815.6,1024.1" fill="none" stroke="#333" stroke-width="2.6" stroke-linejoin="miter"/>
<polyline points="311.2,973.5 311.2,956.2 954.2,956.2 954.2,973.5" fill="none" stroke="#333" stroke-width="2.6" stroke-linejoin="miter"/>
<text x="377.9" y="1157.5" font-size="66.5" text-anchor="middle" font-weight="bold" fill="#0a0a0a" stroke="#0a0a0a" stroke-width="0.3" >*</text>
<text x="440.8" y="1113.3" font-size="66.5" text-anchor="middle" font-weight="bold" fill="#0a0a0a" stroke="#0a0a0a" stroke-width="0.3" >*</text>
<text x="505.3" y="1066.5" font-size="66.5" text-anchor="middle" font-weight="bold" fill="#0a0a0a" stroke="#0a0a0a" stroke-width="0.3" >*</text>
<text x="561.3" y="1022.3" font-size="66.5" text-anchor="middle" font-weight="bold" fill="#0a0a0a" stroke="#0a0a0a" stroke-width="0.3" >*</text>
<text x="633.2" y="973.3" font-size="66.5" text-anchor="middle" font-weight="bold" fill="#0a0a0a" stroke="#0a0a0a" stroke-width="0.3" >*</text>
<text transform="translate(147.4,1255.6) rotate(-90)" font-size="43" text-anchor="middle" fill="#141414" stroke="#141414" stroke-width="0.3" textLength="516" lengthAdjust="spacingAndGlyphs">HDAC 3/β-actin (of control)</text>
<text x="17.0" y="1768.8" font-size="57.5" text-anchor="start" font-weight="bold" fill="#000" stroke="#000" stroke-width="0.3" >D</text>
<rect x="292.4" y="2130.7" width="81.0" height="196.9" fill="url(#chk)" stroke="#0d0d0d" stroke-width="2.0"/>
<rect x="416.6" y="1997.0" width="81.0" height="330.6" fill="url(#chk)" stroke="#0d0d0d" stroke-width="2.0"/>
<rect x="541.2" y="1969.4" width="81.0" height="358.2" fill="url(#chk)" stroke="#0d0d0d" stroke-width="2.0"/>
<rect x="664.9" y="1933.2" width="81.0" height="394.4" fill="url(#chk)" stroke="#0d0d0d" stroke-width="2.0"/>
<rect x="788.9" y="1885.3" width="81.0" height="442.3" fill="url(#chk)" stroke="#0d0d0d" stroke-width="2.0"/>
<rect x="912.8" y="1866.8" width="81.0" height="460.8" fill="url(#chk)" stroke="#0d0d0d" stroke-width="2.0"/>
<line x1="332.9" y1="2127.6" x2="332.9" y2="2130.7" stroke="#222" stroke-width="2.6" stroke-linecap="butt"/>
<line x1="311.9" y1="2127.6" x2="353.9" y2="2127.6" stroke="#222" stroke-width="2.6" stroke-linecap="butt"/>
<line x1="457.1" y1="1990.1" x2="457.1" y2="1997.0" stroke="#222" stroke-width="2.6" stroke-linecap="butt"/>
<line x1="436.1" y1="1990.1" x2="478.1" y2="1990.1" stroke="#222" stroke-width="2.6" stroke-linecap="butt"/>
<line x1="581.7" y1="1960.1" x2="581.7" y2="1969.4" stroke="#222" stroke-width="2.6" stroke-linecap="butt"/>
<line x1="560.7" y1="1960.1" x2="602.7" y2="1960.1" stroke="#222" stroke-width="2.6" stroke-linecap="butt"/>
<line x1="705.4" y1="1923.2" x2="705.4" y2="1933.2" stroke="#222" stroke-width="2.6" stroke-linecap="butt"/>
<line x1="684.4" y1="1923.2" x2="726.4" y2="1923.2" stroke="#222" stroke-width="2.6" stroke-linecap="butt"/>
<line x1="829.4" y1="1877.9" x2="829.4" y2="1885.3" stroke="#222" stroke-width="2.6" stroke-linecap="butt"/>
<line x1="808.4" y1="1877.9" x2="850.4" y2="1877.9" stroke="#222" stroke-width="2.6" stroke-linecap="butt"/>
<line x1="953.3" y1="1858.6" x2="953.3" y2="1866.8" stroke="#222" stroke-width="2.6" stroke-linecap="butt"/>
<line x1="932.3" y1="1858.6" x2="974.3" y2="1858.6" stroke="#222" stroke-width="2.6" stroke-linecap="butt"/>
<line x1="270.8" y1="1829.0" x2="270.8" y2="2329.0" stroke="#1c1c1c" stroke-width="2.8" stroke-linecap="butt"/>
<line x1="269.4" y1="2327.6" x2="1018.1" y2="2327.6" stroke="#1c1c1c" stroke-width="2.8" stroke-linecap="butt"/>
<line x1="257.3" y1="1830.4" x2="270.8" y2="1830.4" stroke="#1c1c1c" stroke-width="2.8" stroke-linecap="butt"/>
<text x="250.8" y="1842.2" font-size="36.6" text-anchor="end" font-weight="normal" fill="#141414" stroke="#141414" stroke-width="0.3" >2.5</text>
<line x1="257.3" y1="1929.8" x2="270.8" y2="1929.8" stroke="#1c1c1c" stroke-width="2.8" stroke-linecap="butt"/>
<text x="250.8" y="1941.6" font-size="36.6" text-anchor="end" font-weight="normal" fill="#141414" stroke="#141414" stroke-width="0.3" >2.0</text>
<line x1="257.3" y1="2029.3" x2="270.8" y2="2029.3" stroke="#1c1c1c" stroke-width="2.8" stroke-linecap="butt"/>
<text x="250.8" y="2041.1" font-size="36.6" text-anchor="end" font-weight="normal" fill="#141414" stroke="#141414" stroke-width="0.3" >1.5</text>
<line x1="257.3" y1="2128.7" x2="270.8" y2="2128.7" stroke="#1c1c1c" stroke-width="2.8" stroke-linecap="butt"/>
<text x="250.8" y="2140.5" font-size="36.6" text-anchor="end" font-weight="normal" fill="#141414" stroke="#141414" stroke-width="0.3" >1.0</text>
<line x1="257.3" y1="2228.2" x2="270.8" y2="2228.2" stroke="#1c1c1c" stroke-width="2.8" stroke-linecap="butt"/>
<text x="250.8" y="2240.0" font-size="36.6" text-anchor="end" font-weight="normal" fill="#141414" stroke="#141414" stroke-width="0.3" >0.5</text>
<line x1="257.3" y1="2327.6" x2="270.8" y2="2327.6" stroke="#1c1c1c" stroke-width="2.8" stroke-linecap="butt"/>
<text x="250.8" y="2339.4" font-size="36.6" text-anchor="end" font-weight="normal" fill="#141414" stroke="#141414" stroke-width="0.3" >0.0</text>
<line x1="332.9" y1="2327.6" x2="332.9" y2="2340.1" stroke="#1c1c1c" stroke-width="2.8" stroke-linecap="butt"/>
<line x1="457.1" y1="2327.6" x2="457.1" y2="2340.1" stroke="#1c1c1c" stroke-width="2.8" stroke-linecap="butt"/>
<line x1="581.7" y1="2327.6" x2="581.7" y2="2340.1" stroke="#1c1c1c" stroke-width="2.8" stroke-linecap="butt"/>
<line x1="705.4" y1="2327.6" x2="705.4" y2="2340.1" stroke="#1c1c1c" stroke-width="2.8" stroke-linecap="butt"/>
<line x1="829.4" y1="2327.6" x2="829.4" y2="2340.1" stroke="#1c1c1c" stroke-width="2.8" stroke-linecap="butt"/>
<line x1="953.3" y1="2327.6" x2="953.3" y2="2340.1" stroke="#1c1c1c" stroke-width="2.8" stroke-linecap="butt"/>
<text x="332.9" y="2379.4" font-size="36" text-anchor="middle" font-weight="normal" fill="#141414" stroke="#141414" stroke-width="0.3" >0</text>
<text x="457.1" y="2379.4" font-size="36" text-anchor="middle" font-weight="normal" fill="#141414" stroke="#141414" stroke-width="0.3" >0.1</text>
<text x="581.7" y="2379.4" font-size="36" text-anchor="middle" font-weight="normal" fill="#141414" stroke="#141414" stroke-width="0.3" >0.5</text>
<text x="705.4" y="2379.4" font-size="36" text-anchor="middle" font-weight="normal" fill="#141414" stroke="#141414" stroke-width="0.3" >1.0</text>
<text x="829.4" y="2379.4" font-size="36" text-anchor="middle" font-weight="normal" fill="#141414" stroke="#141414" stroke-width="0.3" >5.0</text>
<text x="953.3" y="2379.4" font-size="36" text-anchor="middle" font-weight="normal" fill="#141414" stroke="#141414" stroke-width="0.3" >0.5</text>
<text x="1001.5" y="2379.4" font-size="36" text-anchor="start" font-weight="normal" fill="#141414" stroke="#141414" stroke-width="0.3" >(μM)</text>
<line x1="316.2" y1="2396.7" x2="862.0" y2="2396.7" stroke="#1c1c1c" stroke-width="3.0" stroke-linecap="butt"/>
<line x1="901.9" y1="2396.7" x2="997.6" y2="2396.7" stroke="#1c1c1c" stroke-width="3.0" stroke-linecap="butt"/>
<text x="578.6" y="2443.0" font-size="38.5" text-anchor="middle" font-weight="normal" fill="#141414" stroke="#141414" stroke-width="0.3" >B1</text>
<text x="952.8" y="2443.0" font-size="38.5" text-anchor="middle" font-weight="normal" fill="#141414" stroke="#141414" stroke-width="0.3" >TSA</text>
<polyline points="333.3,1977.3 333.3,1960.0 456.0,1960.0 456.0,1977.3" fill="none" stroke="#333" stroke-width="2.6" stroke-linejoin="miter"/>
<polyline points="333.3,1936.3 333.3,1919.0 579.0,1919.0 579.0,1936.3" fill="none" stroke="#333" stroke-width="2.6" stroke-linejoin="miter"/>
<polyline points="333.3,1893.1 333.3,1875.8 704.2,1875.8 704.2,1893.1" fill="none" stroke="#333" stroke-width="2.6" stroke-linejoin="miter"/>
<polyline points="333.3,1847.3 333.3,1830.0 828.6,1830.0 828.6,1847.3" fill="none" stroke="#333" stroke-width="2.6" stroke-linejoin="miter"/>
<polyline points="333.3,1798.6 333.3,1781.3 952.0,1781.3 952.0,1798.6" fill="none" stroke="#333" stroke-width="2.6" stroke-linejoin="miter"/>
<text x="396.3" y="1975.6" font-size="66.5" text-anchor="middle" font-weight="bold" fill="#0a0a0a" stroke="#0a0a0a" stroke-width="0.3" >*</text>
<text x="457.6" y="1932.2" font-size="66.5" text-anchor="middle" font-weight="bold" fill="#0a0a0a" stroke="#0a0a0a" stroke-width="0.3" >*</text>
<text x="520.3" y="1889.9" font-size="66.5" text-anchor="middle" font-weight="bold" fill="#0a0a0a" stroke="#0a0a0a" stroke-width="0.3" >*</text>
<text x="587.0" y="1843.9" font-size="66.5" text-anchor="middle" font-weight="bold" fill="#0a0a0a" stroke="#0a0a0a" stroke-width="0.3" >*</text>
<text x="644.1" y="1791.1" font-size="66.5" text-anchor="middle" font-weight="bold" fill="#0a0a0a" stroke="#0a0a0a" stroke-width="0.3" >*</text>
<text transform="translate(126.4,2076.2) rotate(-90)" font-size="40" text-anchor="middle" fill="#141414" stroke="#141414" stroke-width="0.3" textLength="473" lengthAdjust="spacingAndGlyphs" xml:space="preserve">Acetyl  Histone H3/β-actin</text>
<text transform="translate(171.5,2069.0) rotate(-90)" font-size="40" text-anchor="middle" fill="#141414" stroke="#141414" stroke-width="0.3" textLength="185.6" lengthAdjust="spacingAndGlyphs">(of control)</text>
<text x="1181.5" y="61.4" font-size="57.5" text-anchor="start" font-weight="bold" fill="#000" stroke="#000" stroke-width="0.3" >E</text>
<line x1="1341.6" y1="60.1" x2="1341.6" y2="499.3" stroke="#484848" stroke-width="1.6" stroke-linecap="butt"/>
<line x1="1340.8" y1="492.3" x2="1892.0" y2="492.3" stroke="#484848" stroke-width="1.6" stroke-linecap="butt"/>
<line x1="1334.4" y1="60.9" x2="1341.6" y2="60.9" stroke="#484848" stroke-width="1.6" stroke-linecap="butt"/>
<text x="1331.0" y="70.9" font-size="26.3" text-anchor="end" font-weight="normal" fill="#3a3a3a" stroke="#3a3a3a" stroke-width="0.55" >120</text>
<line x1="1334.4" y1="133.5" x2="1341.6" y2="133.5" stroke="#484848" stroke-width="1.6" stroke-linecap="butt"/>
<text x="1331.0" y="143.5" font-size="26.3" text-anchor="end" font-weight="normal" fill="#3a3a3a" stroke="#3a3a3a" stroke-width="0.55" >100</text>
<line x1="1334.4" y1="206.1" x2="1341.6" y2="206.1" stroke="#484848" stroke-width="1.6" stroke-linecap="butt"/>
<text x="1331.0" y="216.1" font-size="26.3" text-anchor="end" font-weight="normal" fill="#3a3a3a" stroke="#3a3a3a" stroke-width="0.55" >80</text>
<line x1="1334.4" y1="278.7" x2="1341.6" y2="278.7" stroke="#484848" stroke-width="1.6" stroke-linecap="butt"/>
<text x="1331.0" y="288.7" font-size="26.3" text-anchor="end" font-weight="normal" fill="#3a3a3a" stroke="#3a3a3a" stroke-width="0.55" >60</text>
<line x1="1334.4" y1="350.9" x2="1341.6" y2="350.9" stroke="#484848" stroke-width="1.6" stroke-linecap="butt"/>
<text x="1331.0" y="360.9" font-size="26.3" text-anchor="end" font-weight="normal" fill="#3a3a3a" stroke="#3a3a3a" stroke-width="0.55" >40</text>
<line x1="1334.4" y1="423.6" x2="1341.6" y2="423.6" stroke="#484848" stroke-width="1.6" stroke-linecap="butt"/>
<text x="1331.0" y="433.6" font-size="26.3" text-anchor="end" font-weight="normal" fill="#3a3a3a" stroke="#3a3a3a" stroke-width="0.55" >20</text>
<text x="1331.0" y="502.3" font-size="26.3" text-anchor="end" font-weight="normal" fill="#3a3a3a" stroke="#3a3a3a" stroke-width="0.55" >0</text>
<line x1="1451.3" y1="492.3" x2="1451.3" y2="499.3" stroke="#484848" stroke-width="1.6" stroke-linecap="butt"/>
<text x="1451.6" y="523.5" font-size="26.5" text-anchor="middle" font-weight="normal" fill="#3a3a3a" stroke="#3a3a3a" stroke-width="0.55" >0.1</text>
<line x1="1561.5" y1="492.3" x2="1561.5" y2="499.3" stroke="#484848" stroke-width="1.6" stroke-linecap="butt"/>
<text x="1561.8" y="523.5" font-size="26.5" text-anchor="middle" font-weight="normal" fill="#3a3a3a" stroke="#3a3a3a" stroke-width="0.55" >0.5</text>
<line x1="1671.6" y1="492.3" x2="1671.6" y2="499.3" stroke="#484848" stroke-width="1.6" stroke-linecap="butt"/>
<text x="1671.9" y="523.5" font-size="26.5" text-anchor="middle" font-weight="normal" fill="#3a3a3a" stroke="#3a3a3a" stroke-width="0.55" >1.0</text>
<line x1="1781.7" y1="492.3" x2="1781.7" y2="499.3" stroke="#484848" stroke-width="1.6" stroke-linecap="butt"/>
<text x="1782.0" y="523.5" font-size="26.5" text-anchor="middle" font-weight="normal" fill="#3a3a3a" stroke="#3a3a3a" stroke-width="0.55" >5.0</text>
<text y="567.0" font-size="35.2" fill="#3a3a3a" stroke="#3a3a3a" stroke-width="0.55"><tspan x="1558.5">B</tspan><tspan x="1582.4" dy="12.5" font-size="24.5">1</tspan><tspan x="1594.5" dy="-12.5"> </tspan><tspan x="1604.6" textLength="75.5" lengthAdjust="spacingAndGlyphs">(μM)</tspan></text>
<text transform="translate(1257.1,275.3) rotate(-90)" font-size="35" text-anchor="middle" fill="#3a3a3a" stroke="#3a3a3a" stroke-width="0.55" textLength="238" lengthAdjust="spacingAndGlyphs">Cell viability (%)</text>
<text x="1596.3" y="44.3" font-size="41" text-anchor="middle" fill="#2a2a2a" stroke="#2a2a2a" stroke-width="0.5" textLength="104.6" lengthAdjust="spacing">A549</text>
<rect x="1750.2" y="41.3" width="148.3" height="104.9" fill="#fff" stroke="#444" stroke-width="2.2"/>
<line x1="1764.1" y1="67.7" x2="1810.7" y2="67.7" stroke="#484848" stroke-width="1.6" stroke-linecap="butt"/>
<circle cx="1787.6" cy="67.7" r="6.8" fill="#0d0d0d"/>
<text x="1816.6" y="75.6" font-size="22" text-anchor="start" font-weight="normal" fill="#3a3a3a" stroke="#3a3a3a" stroke-width="0.55" letter-spacing="1.5">B1</text>
<line x1="1764.1" y1="93.4" x2="1810.7" y2="93.4" stroke="#484848" stroke-width="1.6" stroke-linecap="butt"/>
<circle cx="1787.6" cy="93.4" r="5.9" fill="#fff" stroke="#222" stroke-width="2.0"/>
<text x="1816.6" y="101.3" font-size="22" text-anchor="start" font-weight="normal" fill="#3a3a3a" stroke="#3a3a3a" stroke-width="0.55" letter-spacing="1.5">TSA</text>
<line x1="1764.1" y1="118.9" x2="1810.7" y2="118.9" stroke="#484848" stroke-width="1.6" stroke-linecap="butt"/>
<polygon points="1781.0,115.7 1794.2,115.7 1787.6,127.5" fill="#0d0d0d"/>
<text x="1816.6" y="126.8" font-size="22" text-anchor="start" font-weight="normal" fill="#3a3a3a" stroke="#3a3a3a" stroke-width="0.55" letter-spacing="1.5">SAHA</text>
<line x1="1451.3" y1="188.5" x2="1451.3" y2="224.1" stroke="#484848" stroke-width="1.3" stroke-linecap="butt"/>
<line x1="1444.0" y1="188.5" x2="1458.6" y2="188.5" stroke="#484848" stroke-width="1.3" stroke-linecap="butt"/>
<line x1="1444.0" y1="224.1" x2="1458.6" y2="224.1" stroke="#484848" stroke-width="1.3" stroke-linecap="butt"/>
<line x1="1561.5" y1="265.6" x2="1561.5" y2="299.0" stroke="#484848" stroke-width="1.3" stroke-linecap="butt"/>
<line x1="1554.2" y1="265.6" x2="1568.8" y2="265.6" stroke="#484848" stroke-width="1.3" stroke-linecap="butt"/>
<line x1="1554.2" y1="299.0" x2="1568.8" y2="299.0" stroke="#484848" stroke-width="1.3" stroke-linecap="butt"/>
<line x1="1671.6" y1="343.5" x2="1671.6" y2="367.3" stroke="#484848" stroke-width="1.3" stroke-linecap="butt"/>
<line x1="1664.3" y1="343.5" x2="1678.9" y2="343.5" stroke="#484848" stroke-width="1.3" stroke-linecap="butt"/>
<line x1="1664.3" y1="367.3" x2="1678.9" y2="367.3" stroke="#484848" stroke-width="1.3" stroke-linecap="butt"/>
<line x1="1781.7" y1="476.0" x2="1781.7" y2="486.0" stroke="#484848" stroke-width="1.3" stroke-linecap="butt"/>
<line x1="1774.4" y1="476.0" x2="1789.0" y2="476.0" stroke="#484848" stroke-width="1.3" stroke-linecap="butt"/>
<line x1="1774.4" y1="486.0" x2="1789.0" y2="486.0" stroke="#484848" stroke-width="1.3" stroke-linecap="butt"/>
<polyline points="1341.6,132.5 1451.3,206.3 1561.5,282.3 1671.6,355.4 1781.7,481.0" fill="none" stroke="#484848" stroke-width="1.7" stroke-linejoin="round"/>
<circle cx="1341.6" cy="132.5" r="6.1" fill="#0d0d0d"/>
<circle cx="1451.3" cy="206.3" r="6.1" fill="#0d0d0d"/>
<circle cx="1561.5" cy="282.3" r="6.1" fill="#0d0d0d"/>
<circle cx="1671.6" cy="355.4" r="6.1" fill="#0d0d0d"/>
<circle cx="1781.7" cy="481.0" r="6.1" fill="#0d0d0d"/>
<line x1="1451.3" y1="175.0" x2="1451.3" y2="192.0" stroke="#484848" stroke-width="1.3" stroke-linecap="butt"/>
<line x1="1444.0" y1="175.0" x2="1458.6" y2="175.0" stroke="#484848" stroke-width="1.3" stroke-linecap="butt"/>
<line x1="1444.0" y1="192.0" x2="1458.6" y2="192.0" stroke="#484848" stroke-width="1.3" stroke-linecap="butt"/>
<line x1="1561.5" y1="226.5" x2="1561.5" y2="270.5" stroke="#484848" stroke-width="1.3" stroke-linecap="butt"/>
<line x1="1554.2" y1="226.5" x2="1568.8" y2="226.5" stroke="#484848" stroke-width="1.3" stroke-linecap="butt"/>
<line x1="1554.2" y1="270.5" x2="1568.8" y2="270.5" stroke="#484848" stroke-width="1.3" stroke-linecap="butt"/>
<line x1="1671.6" y1="377.5" x2="1671.6" y2="410.1" stroke="#484848" stroke-width="1.3" stroke-linecap="butt"/>
<line x1="1664.3" y1="377.5" x2="1678.9" y2="377.5" stroke="#484848" stroke-width="1.3" stroke-linecap="butt"/>
<line x1="1664.3" y1="410.1" x2="1678.9" y2="410.1" stroke="#484848" stroke-width="1.3" stroke-linecap="butt"/>
<line x1="1781.7" y1="465.0" x2="1781.7" y2="477.0" stroke="#484848" stroke-width="1.3" stroke-linecap="butt"/>
<line x1="1774.4" y1="465.0" x2="1789.0" y2="465.0" stroke="#484848" stroke-width="1.3" stroke-linecap="butt"/>
<line x1="1774.4" y1="477.0" x2="1789.0" y2="477.0" stroke="#484848" stroke-width="1.3" stroke-linecap="butt"/>
<polyline points="1341.6,132.5 1451.3,183.5 1561.5,248.5 1671.6,393.8 1781.7,471.0" fill="none" stroke="#484848" stroke-width="1.7" stroke-linejoin="round"/>
<circle cx="1341.6" cy="132.5" r="5.3" fill="#fff" stroke="#222" stroke-width="2.0"/>
<circle cx="1451.3" cy="183.5" r="5.3" fill="#fff" stroke="#222" stroke-width="2.0"/>
<circle cx="1561.5" cy="248.5" r="5.3" fill="#fff" stroke="#222" stroke-width="2.0"/>
<circle cx="1671.6" cy="393.8" r="5.3" fill="#fff" stroke="#222" stroke-width="2.0"/>
<circle cx="1781.7" cy="471.0" r="5.3" fill="#fff" stroke="#222" stroke-width="2.0"/>
<line x1="1451.3" y1="147.2" x2="1451.3" y2="176.4" stroke="#484848" stroke-width="1.3" stroke-linecap="butt"/>
<line x1="1444.0" y1="147.2" x2="1458.6" y2="147.2" stroke="#484848" stroke-width="1.3" stroke-linecap="butt"/>
<line x1="1444.0" y1="176.4" x2="1458.6" y2="176.4" stroke="#484848" stroke-width="1.3" stroke-linecap="butt"/>
<line x1="1561.5" y1="195.4" x2="1561.5" y2="233.0" stroke="#484848" stroke-width="1.3" stroke-linecap="butt"/>
<line x1="1554.2" y1="195.4" x2="1568.8" y2="195.4" stroke="#484848" stroke-width="1.3" stroke-linecap="butt"/>
<line x1="1554.2" y1="233.0" x2="1568.8" y2="233.0" stroke="#484848" stroke-width="1.3" stroke-linecap="butt"/>
<line x1="1671.6" y1="363.3" x2="1671.6" y2="388.3" stroke="#484848" stroke-width="1.3" stroke-linecap="butt"/>
<line x1="1664.3" y1="363.3" x2="1678.9" y2="363.3" stroke="#484848" stroke-width="1.3" stroke-linecap="butt"/>
<line x1="1664.3" y1="388.3" x2="1678.9" y2="388.3" stroke="#484848" stroke-width="1.3" stroke-linecap="butt"/>
<line x1="1781.7" y1="454.6" x2="1781.7" y2="472.6" stroke="#484848" stroke-width="1.3" stroke-linecap="butt"/>
<line x1="1774.4" y1="454.6" x2="1789.0" y2="454.6" stroke="#484848" stroke-width="1.3" stroke-linecap="butt"/>
<line x1="1774.4" y1="472.6" x2="1789.0" y2="472.6" stroke="#484848" stroke-width="1.3" stroke-linecap="butt"/>
<polyline points="1341.6,132.5 1451.3,161.8 1561.5,214.2 1671.6,375.8 1781.7,463.6" fill="none" stroke="#484848" stroke-width="1.7" stroke-linejoin="round"/>
<polygon points="1334.8,128.0 1348.4,128.0 1341.6,138.8" fill="#0d0d0d"/>
<polygon points="1444.5,157.3 1458.1,157.3 1451.3,168.1" fill="#0d0d0d"/>
<polygon points="1554.7,209.7 1568.3,209.7 1561.5,220.5" fill="#0d0d0d"/>
<polygon points="1664.8,371.3 1678.4,371.3 1671.6,382.1" fill="#0d0d0d"/>
<polygon points="1774.9,459.1 1788.5,459.1 1781.7,469.9" fill="#0d0d0d"/>
<circle cx="1341.6" cy="132.5" r="6.1" fill="#0d0d0d"/>
<polygon points="1334.8,128.0 1348.4,128.0 1341.6,138.8" fill="#0d0d0d"/>
<line x1="1341.6" y1="698.9" x2="1341.6" y2="1138.0" stroke="#484848" stroke-width="1.6" stroke-linecap="butt"/>
<line x1="1340.8" y1="1131.0" x2="1892.0" y2="1131.0" stroke="#484848" stroke-width="1.6" stroke-linecap="butt"/>
<line x1="1334.4" y1="699.6" x2="1341.6" y2="699.6" stroke="#484848" stroke-width="1.6" stroke-linecap="butt"/>
<text x="1331.0" y="709.6" font-size="26.3" text-anchor="end" font-weight="normal" fill="#3a3a3a" stroke="#3a3a3a" stroke-width="0.55" >120</text>
<line x1="1334.4" y1="772.2" x2="1341.6" y2="772.2" stroke="#484848" stroke-width="1.6" stroke-linecap="butt"/>
<text x="1331.0" y="782.2" font-size="26.3" text-anchor="end" font-weight="normal" fill="#3a3a3a" stroke="#3a3a3a" stroke-width="0.55" >100</text>
<line x1="1334.4" y1="844.8" x2="1341.6" y2="844.8" stroke="#484848" stroke-width="1.6" stroke-linecap="butt"/>
<text x="1331.0" y="854.8" font-size="26.3" text-anchor="end" font-weight="normal" fill="#3a3a3a" stroke="#3a3a3a" stroke-width="0.55" >80</text>
<line x1="1334.4" y1="917.5" x2="1341.6" y2="917.5" stroke="#484848" stroke-width="1.6" stroke-linecap="butt"/>
<text x="1331.0" y="927.5" font-size="26.3" text-anchor="end" font-weight="normal" fill="#3a3a3a" stroke="#3a3a3a" stroke-width="0.55" >60</text>
<line x1="1334.4" y1="989.6" x2="1341.6" y2="989.6" stroke="#484848" stroke-width="1.6" stroke-linecap="butt"/>
<text x="1331.0" y="999.6" font-size="26.3" text-anchor="end" font-weight="normal" fill="#3a3a3a" stroke="#3a3a3a" stroke-width="0.55" >40</text>
<line x1="1334.4" y1="1062.3" x2="1341.6" y2="1062.3" stroke="#484848" stroke-width="1.6" stroke-linecap="butt"/>
<text x="1331.0" y="1072.3" font-size="26.3" text-anchor="end" font-weight="normal" fill="#3a3a3a" stroke="#3a3a3a" stroke-width="0.55" >20</text>
<text x="1331.0" y="1141.0" font-size="26.3" text-anchor="end" font-weight="normal" fill="#3a3a3a" stroke="#3a3a3a" stroke-width="0.55" >0</text>
<line x1="1451.3" y1="1131.0" x2="1451.3" y2="1138.0" stroke="#484848" stroke-width="1.6" stroke-linecap="butt"/>
<text x="1451.6" y="1162.2" font-size="26.5" text-anchor="middle" font-weight="normal" fill="#3a3a3a" stroke="#3a3a3a" stroke-width="0.55" >0.1</text>
<line x1="1561.5" y1="1131.0" x2="1561.5" y2="1138.0" stroke="#484848" stroke-width="1.6" stroke-linecap="butt"/>
<text x="1561.8" y="1162.2" font-size="26.5" text-anchor="middle" font-weight="normal" fill="#3a3a3a" stroke="#3a3a3a" stroke-width="0.55" >0.5</text>
<line x1="1671.6" y1="1131.0" x2="1671.6" y2="1138.0" stroke="#484848" stroke-width="1.6" stroke-linecap="butt"/>
<text x="1671.9" y="1162.2" font-size="26.5" text-anchor="middle" font-weight="normal" fill="#3a3a3a" stroke="#3a3a3a" stroke-width="0.55" >1.0</text>
<line x1="1781.7" y1="1131.0" x2="1781.7" y2="1138.0" stroke="#484848" stroke-width="1.6" stroke-linecap="butt"/>
<text x="1782.0" y="1162.2" font-size="26.5" text-anchor="middle" font-weight="normal" fill="#3a3a3a" stroke="#3a3a3a" stroke-width="0.55" >5.0</text>
<text y="1205.8" font-size="35.2" fill="#3a3a3a" stroke="#3a3a3a" stroke-width="0.55"><tspan x="1558.5">B</tspan><tspan x="1582.4" dy="12.5" font-size="24.5">1</tspan><tspan x="1594.5" dy="-12.5"> </tspan><tspan x="1604.6" textLength="75.5" lengthAdjust="spacingAndGlyphs">(μM)</tspan></text>
<text transform="translate(1257.1,914.0) rotate(-90)" font-size="35" text-anchor="middle" fill="#3a3a3a" stroke="#3a3a3a" stroke-width="0.55" textLength="238" lengthAdjust="spacingAndGlyphs">Cell viability (%)</text>
<text x="1593.7" y="682.7" font-size="41" text-anchor="middle" fill="#2a2a2a" stroke="#2a2a2a" stroke-width="0.5" textLength="141.3" lengthAdjust="spacing">HepG2</text>
<rect x="1750.2" y="696.0" width="148.3" height="104.9" fill="#fff" stroke="#444" stroke-width="2.2"/>
<line x1="1764.1" y1="722.4" x2="1810.7" y2="722.4" stroke="#484848" stroke-width="1.6" stroke-linecap="butt"/>
<circle cx="1787.6" cy="722.4" r="6.8" fill="#0d0d0d"/>
<text x="1816.6" y="730.3" font-size="22" text-anchor="start" font-weight="normal" fill="#3a3a3a" stroke="#3a3a3a" stroke-width="0.55" letter-spacing="1.5">B1</text>
<line x1="1764.1" y1="748.1" x2="1810.7" y2="748.1" stroke="#484848" stroke-width="1.6" stroke-linecap="butt"/>
<circle cx="1787.6" cy="748.1" r="5.9" fill="#fff" stroke="#222" stroke-width="2.0"/>
<text x="1816.6" y="756.0" font-size="22" text-anchor="start" font-weight="normal" fill="#3a3a3a" stroke="#3a3a3a" stroke-width="0.55" letter-spacing="1.5">TSA</text>
<line x1="1764.1" y1="773.6" x2="1810.7" y2="773.6" stroke="#484848" stroke-width="1.6" stroke-linecap="butt"/>
<polygon points="1781.0,770.4 1794.2,770.4 1787.6,782.2" fill="#0d0d0d"/>
<text x="1816.6" y="781.5" font-size="22" text-anchor="start" font-weight="normal" fill="#3a3a3a" stroke="#3a3a3a" stroke-width="0.55" letter-spacing="1.5">SAHA</text>
<line x1="1451.3" y1="832.6" x2="1451.3" y2="862.6" stroke="#484848" stroke-width="1.3" stroke-linecap="butt"/>
<line x1="1444.0" y1="832.6" x2="1458.6" y2="832.6" stroke="#484848" stroke-width="1.3" stroke-linecap="butt"/>
<line x1="1444.0" y1="862.6" x2="1458.6" y2="862.6" stroke="#484848" stroke-width="1.3" stroke-linecap="butt"/>
<line x1="1561.5" y1="874.5" x2="1561.5" y2="897.1" stroke="#484848" stroke-width="1.3" stroke-linecap="butt"/>
<line x1="1554.2" y1="874.5" x2="1568.8" y2="874.5" stroke="#484848" stroke-width="1.3" stroke-linecap="butt"/>
<line x1="1554.2" y1="897.1" x2="1568.8" y2="897.1" stroke="#484848" stroke-width="1.3" stroke-linecap="butt"/>
<line x1="1671.6" y1="997.4" x2="1671.6" y2="1015.4" stroke="#484848" stroke-width="1.3" stroke-linecap="butt"/>
<line x1="1664.3" y1="997.4" x2="1678.9" y2="997.4" stroke="#484848" stroke-width="1.3" stroke-linecap="butt"/>
<line x1="1664.3" y1="1015.4" x2="1678.9" y2="1015.4" stroke="#484848" stroke-width="1.3" stroke-linecap="butt"/>
<line x1="1781.7" y1="1058.2" x2="1781.7" y2="1079.0" stroke="#484848" stroke-width="1.3" stroke-linecap="butt"/>
<line x1="1774.4" y1="1058.2" x2="1789.0" y2="1058.2" stroke="#484848" stroke-width="1.3" stroke-linecap="butt"/>
<line x1="1774.4" y1="1079.0" x2="1789.0" y2="1079.0" stroke="#484848" stroke-width="1.3" stroke-linecap="butt"/>
<polyline points="1341.6,771.9 1451.3,847.6 1561.5,885.8 1671.6,1006.4 1781.7,1068.6" fill="none" stroke="#484848" stroke-width="1.7" stroke-linejoin="round"/>
<circle cx="1341.6" cy="771.9" r="6.1" fill="#0d0d0d"/>
<circle cx="1451.3" cy="847.6" r="6.1" fill="#0d0d0d"/>
<circle cx="1561.5" cy="885.8" r="6.1" fill="#0d0d0d"/>
<circle cx="1671.6" cy="1006.4" r="6.1" fill="#0d0d0d"/>
<circle cx="1781.7" cy="1068.6" r="6.1" fill="#0d0d0d"/>
<line x1="1451.3" y1="801.4" x2="1451.3" y2="835.4" stroke="#484848" stroke-width="1.3" stroke-linecap="butt"/>
<line x1="1444.0" y1="801.4" x2="1458.6" y2="801.4" stroke="#484848" stroke-width="1.3" stroke-linecap="butt"/>
<line x1="1444.0" y1="835.4" x2="1458.6" y2="835.4" stroke="#484848" stroke-width="1.3" stroke-linecap="butt"/>
<line x1="1561.5" y1="953.0" x2="1561.5" y2="980.6" stroke="#484848" stroke-width="1.3" stroke-linecap="butt"/>
<line x1="1554.2" y1="953.0" x2="1568.8" y2="953.0" stroke="#484848" stroke-width="1.3" stroke-linecap="butt"/>
<line x1="1554.2" y1="980.6" x2="1568.8" y2="980.6" stroke="#484848" stroke-width="1.3" stroke-linecap="butt"/>
<line x1="1671.6" y1="1001.8" x2="1671.6" y2="1034.6" stroke="#484848" stroke-width="1.3" stroke-linecap="butt"/>
<line x1="1664.3" y1="1001.8" x2="1678.9" y2="1001.8" stroke="#484848" stroke-width="1.3" stroke-linecap="butt"/>
<line x1="1664.3" y1="1034.6" x2="1678.9" y2="1034.6" stroke="#484848" stroke-width="1.3" stroke-linecap="butt"/>
<line x1="1781.7" y1="1075.5" x2="1781.7" y2="1090.5" stroke="#484848" stroke-width="1.3" stroke-linecap="butt"/>
<line x1="1774.4" y1="1075.5" x2="1789.0" y2="1075.5" stroke="#484848" stroke-width="1.3" stroke-linecap="butt"/>
<line x1="1774.4" y1="1090.5" x2="1789.0" y2="1090.5" stroke="#484848" stroke-width="1.3" stroke-linecap="butt"/>
<polyline points="1341.6,771.9 1451.3,818.4 1561.5,966.8 1671.6,1018.2 1781.7,1083.0" fill="none" stroke="#484848" stroke-width="1.7" stroke-linejoin="round"/>
<circle cx="1341.6" cy="771.9" r="5.3" fill="#fff" stroke="#222" stroke-width="2.0"/>
<circle cx="1451.3" cy="818.4" r="5.3" fill="#fff" stroke="#222" stroke-width="2.0"/>
<circle cx="1561.5" cy="966.8" r="5.3" fill="#fff" stroke="#222" stroke-width="2.0"/>
<circle cx="1671.6" cy="1018.2" r="5.3" fill="#fff" stroke="#222" stroke-width="2.0"/>
<circle cx="1781.7" cy="1083.0" r="5.3" fill="#fff" stroke="#222" stroke-width="2.0"/>
<line x1="1451.3" y1="790.0" x2="1451.3" y2="819.2" stroke="#484848" stroke-width="1.3" stroke-linecap="butt"/>
<line x1="1444.0" y1="790.0" x2="1458.6" y2="790.0" stroke="#484848" stroke-width="1.3" stroke-linecap="butt"/>
<line x1="1444.0" y1="819.2" x2="1458.6" y2="819.2" stroke="#484848" stroke-width="1.3" stroke-linecap="butt"/>
<line x1="1561.5" y1="811.6" x2="1561.5" y2="847.4" stroke="#484848" stroke-width="1.3" stroke-linecap="butt"/>
<line x1="1554.2" y1="811.6" x2="1568.8" y2="811.6" stroke="#484848" stroke-width="1.3" stroke-linecap="butt"/>
<line x1="1554.2" y1="847.4" x2="1568.8" y2="847.4" stroke="#484848" stroke-width="1.3" stroke-linecap="butt"/>
<line x1="1671.6" y1="865.0" x2="1671.6" y2="894.8" stroke="#484848" stroke-width="1.3" stroke-linecap="butt"/>
<line x1="1664.3" y1="865.0" x2="1678.9" y2="865.0" stroke="#484848" stroke-width="1.3" stroke-linecap="butt"/>
<line x1="1664.3" y1="894.8" x2="1678.9" y2="894.8" stroke="#484848" stroke-width="1.3" stroke-linecap="butt"/>
<line x1="1781.7" y1="1010.2" x2="1781.7" y2="1035.0" stroke="#484848" stroke-width="1.3" stroke-linecap="butt"/>
<line x1="1774.4" y1="1010.2" x2="1789.0" y2="1010.2" stroke="#484848" stroke-width="1.3" stroke-linecap="butt"/>
<line x1="1774.4" y1="1035.0" x2="1789.0" y2="1035.0" stroke="#484848" stroke-width="1.3" stroke-linecap="butt"/>
<polyline points="1341.6,771.9 1451.3,804.6 1561.5,829.5 1671.6,879.9 1781.7,1022.6" fill="none" stroke="#484848" stroke-width="1.7" stroke-linejoin="round"/>
<polygon points="1334.8,767.4 1348.4,767.4 1341.6,778.2" fill="#0d0d0d"/>
<polygon points="1444.5,800.1 1458.1,800.1 1451.3,810.9" fill="#0d0d0d"/>
<polygon points="1554.7,825.0 1568.3,825.0 1561.5,835.8" fill="#0d0d0d"/>
<polygon points="1664.8,875.4 1678.4,875.4 1671.6,886.2" fill="#0d0d0d"/>
<polygon points="1774.9,1018.1 1788.5,1018.1 1781.7,1028.9" fill="#0d0d0d"/>
<circle cx="1341.6" cy="771.9" r="6.1" fill="#0d0d0d"/>
<polygon points="1334.8,767.4 1348.4,767.4 1341.6,778.2" fill="#0d0d0d"/>
<line x1="1341.6" y1="1326.7" x2="1341.6" y2="1765.9" stroke="#484848" stroke-width="1.6" stroke-linecap="butt"/>
<line x1="1340.8" y1="1758.9" x2="1892.0" y2="1758.9" stroke="#484848" stroke-width="1.6" stroke-linecap="butt"/>
<line x1="1334.4" y1="1327.5" x2="1341.6" y2="1327.5" stroke="#484848" stroke-width="1.6" stroke-linecap="butt"/>
<text x="1331.0" y="1337.5" font-size="26.3" text-anchor="end" font-weight="normal" fill="#3a3a3a" stroke="#3a3a3a" stroke-width="0.55" >120</text>
<line x1="1334.4" y1="1400.1" x2="1341.6" y2="1400.1" stroke="#484848" stroke-width="1.6" stroke-linecap="butt"/>
<text x="1331.0" y="1410.1" font-size="26.3" text-anchor="end" font-weight="normal" fill="#3a3a3a" stroke="#3a3a3a" stroke-width="0.55" >100</text>
<line x1="1334.4" y1="1472.7" x2="1341.6" y2="1472.7" stroke="#484848" stroke-width="1.6" stroke-linecap="butt"/>
<text x="1331.0" y="1482.7" font-size="26.3" text-anchor="end" font-weight="normal" fill="#3a3a3a" stroke="#3a3a3a" stroke-width="0.55" >80</text>
<line x1="1334.4" y1="1545.3" x2="1341.6" y2="1545.3" stroke="#484848" stroke-width="1.6" stroke-linecap="butt"/>
<text x="1331.0" y="1555.3" font-size="26.3" text-anchor="end" font-weight="normal" fill="#3a3a3a" stroke="#3a3a3a" stroke-width="0.55" >60</text>
<line x1="1334.4" y1="1617.5" x2="1341.6" y2="1617.5" stroke="#484848" stroke-width="1.6" stroke-linecap="butt"/>
<text x="1331.0" y="1627.5" font-size="26.3" text-anchor="end" font-weight="normal" fill="#3a3a3a" stroke="#3a3a3a" stroke-width="0.55" >40</text>
<line x1="1334.4" y1="1690.2" x2="1341.6" y2="1690.2" stroke="#484848" stroke-width="1.6" stroke-linecap="butt"/>
<text x="1331.0" y="1700.2" font-size="26.3" text-anchor="end" font-weight="normal" fill="#3a3a3a" stroke="#3a3a3a" stroke-width="0.55" >20</text>
<text x="1331.0" y="1768.9" font-size="26.3" text-anchor="end" font-weight="normal" fill="#3a3a3a" stroke="#3a3a3a" stroke-width="0.55" >0</text>
<line x1="1451.3" y1="1758.9" x2="1451.3" y2="1765.9" stroke="#484848" stroke-width="1.6" stroke-linecap="butt"/>
<text x="1451.6" y="1790.1" font-size="26.5" text-anchor="middle" font-weight="normal" fill="#3a3a3a" stroke="#3a3a3a" stroke-width="0.55" >0.1</text>
<line x1="1561.5" y1="1758.9" x2="1561.5" y2="1765.9" stroke="#484848" stroke-width="1.6" stroke-linecap="butt"/>
<text x="1561.8" y="1790.1" font-size="26.5" text-anchor="middle" font-weight="normal" fill="#3a3a3a" stroke="#3a3a3a" stroke-width="0.55" >0.5</text>
<line x1="1671.6" y1="1758.9" x2="1671.6" y2="1765.9" stroke="#484848" stroke-width="1.6" stroke-linecap="butt"/>
<text x="1671.9" y="1790.1" font-size="26.5" text-anchor="middle" font-weight="normal" fill="#3a3a3a" stroke="#3a3a3a" stroke-width="0.55" >1.0</text>
<line x1="1781.7" y1="1758.9" x2="1781.7" y2="1765.9" stroke="#484848" stroke-width="1.6" stroke-linecap="butt"/>
<text x="1782.0" y="1790.1" font-size="26.5" text-anchor="middle" font-weight="normal" fill="#3a3a3a" stroke="#3a3a3a" stroke-width="0.55" >5.0</text>
<text y="1833.6" font-size="35.2" fill="#3a3a3a" stroke="#3a3a3a" stroke-width="0.55"><tspan x="1558.5">B</tspan><tspan x="1582.4" dy="12.5" font-size="24.5">1</tspan><tspan x="1594.5" dy="-12.5"> </tspan><tspan x="1604.6" textLength="75.5" lengthAdjust="spacingAndGlyphs">(μM)</tspan></text>
<text transform="translate(1257.1,1541.9) rotate(-90)" font-size="35" text-anchor="middle" fill="#3a3a3a" stroke="#3a3a3a" stroke-width="0.55" textLength="238" lengthAdjust="spacingAndGlyphs">Cell viability (%)</text>
<text x="1594.8" y="1309.3" font-size="41" text-anchor="middle" fill="#2a2a2a" stroke="#2a2a2a" stroke-width="0.5" textLength="123.7" lengthAdjust="spacing">2.2.15</text>
<rect x="1750.2" y="1331.1" width="148.3" height="104.9" fill="#fff" stroke="#444" stroke-width="2.2"/>
<line x1="1764.1" y1="1357.5" x2="1810.7" y2="1357.5" stroke="#484848" stroke-width="1.6" stroke-linecap="butt"/>
<circle cx="1787.6" cy="1357.5" r="6.8" fill="#0d0d0d"/>
<text x="1816.6" y="1365.4" font-size="22" text-anchor="start" font-weight="normal" fill="#3a3a3a" stroke="#3a3a3a" stroke-width="0.55" letter-spacing="1.5">B1</text>
<line x1="1764.1" y1="1383.2" x2="1810.7" y2="1383.2" stroke="#484848" stroke-width="1.6" stroke-linecap="butt"/>
<circle cx="1787.6" cy="1383.2" r="5.9" fill="#fff" stroke="#222" stroke-width="2.0"/>
<text x="1816.6" y="1391.1" font-size="22" text-anchor="start" font-weight="normal" fill="#3a3a3a" stroke="#3a3a3a" stroke-width="0.55" letter-spacing="1.5">TSA</text>
<line x1="1764.1" y1="1408.7" x2="1810.7" y2="1408.7" stroke="#484848" stroke-width="1.6" stroke-linecap="butt"/>
<polygon points="1781.0,1405.5 1794.2,1405.5 1787.6,1417.3" fill="#0d0d0d"/>
<text x="1816.6" y="1416.6" font-size="22" text-anchor="start" font-weight="normal" fill="#3a3a3a" stroke="#3a3a3a" stroke-width="0.55" letter-spacing="1.5">SAHA</text>
<line x1="1451.3" y1="1420.1" x2="1451.3" y2="1430.1" stroke="#484848" stroke-width="1.3" stroke-linecap="butt"/>
<line x1="1444.0" y1="1420.1" x2="1458.6" y2="1420.1" stroke="#484848" stroke-width="1.3" stroke-linecap="butt"/>
<line x1="1444.0" y1="1430.1" x2="1458.6" y2="1430.1" stroke="#484848" stroke-width="1.3" stroke-linecap="butt"/>
<line x1="1561.5" y1="1433.9" x2="1561.5" y2="1457.9" stroke="#484848" stroke-width="1.3" stroke-linecap="butt"/>
<line x1="1554.2" y1="1433.9" x2="1568.8" y2="1433.9" stroke="#484848" stroke-width="1.3" stroke-linecap="butt"/>
<line x1="1554.2" y1="1457.9" x2="1568.8" y2="1457.9" stroke="#484848" stroke-width="1.3" stroke-linecap="butt"/>
<line x1="1671.6" y1="1600.6" x2="1671.6" y2="1630.4" stroke="#484848" stroke-width="1.3" stroke-linecap="butt"/>
<line x1="1664.3" y1="1600.6" x2="1678.9" y2="1600.6" stroke="#484848" stroke-width="1.3" stroke-linecap="butt"/>
<line x1="1664.3" y1="1630.4" x2="1678.9" y2="1630.4" stroke="#484848" stroke-width="1.3" stroke-linecap="butt"/>
<line x1="1781.7" y1="1725.6" x2="1781.7" y2="1743.6" stroke="#484848" stroke-width="1.3" stroke-linecap="butt"/>
<line x1="1774.4" y1="1725.6" x2="1789.0" y2="1725.6" stroke="#484848" stroke-width="1.3" stroke-linecap="butt"/>
<line x1="1774.4" y1="1743.6" x2="1789.0" y2="1743.6" stroke="#484848" stroke-width="1.3" stroke-linecap="butt"/>
<polyline points="1341.6,1399.7 1451.3,1425.1 1561.5,1445.9 1671.6,1615.5 1781.7,1734.6" fill="none" stroke="#484848" stroke-width="1.7" stroke-linejoin="round"/>
<circle cx="1341.6" cy="1399.7" r="6.1" fill="#0d0d0d"/>
<circle cx="1451.3" cy="1425.1" r="6.1" fill="#0d0d0d"/>
<circle cx="1561.5" cy="1445.9" r="6.1" fill="#0d0d0d"/>
<circle cx="1671.6" cy="1615.5" r="6.1" fill="#0d0d0d"/>
<circle cx="1781.7" cy="1734.6" r="6.1" fill="#0d0d0d"/>
<line x1="1451.3" y1="1429.5" x2="1451.3" y2="1456.3" stroke="#484848" stroke-width="1.3" stroke-linecap="butt"/>
<line x1="1444.0" y1="1429.5" x2="1458.6" y2="1429.5" stroke="#484848" stroke-width="1.3" stroke-linecap="butt"/>
<line x1="1444.0" y1="1456.3" x2="1458.6" y2="1456.3" stroke="#484848" stroke-width="1.3" stroke-linecap="butt"/>
<line x1="1561.5" y1="1564.8" x2="1561.5" y2="1590.0" stroke="#484848" stroke-width="1.3" stroke-linecap="butt"/>
<line x1="1554.2" y1="1564.8" x2="1568.8" y2="1564.8" stroke="#484848" stroke-width="1.3" stroke-linecap="butt"/>
<line x1="1554.2" y1="1590.0" x2="1568.8" y2="1590.0" stroke="#484848" stroke-width="1.3" stroke-linecap="butt"/>
<line x1="1671.6" y1="1625.3" x2="1671.6" y2="1658.1" stroke="#484848" stroke-width="1.3" stroke-linecap="butt"/>
<line x1="1664.3" y1="1625.3" x2="1678.9" y2="1625.3" stroke="#484848" stroke-width="1.3" stroke-linecap="butt"/>
<line x1="1664.3" y1="1658.1" x2="1678.9" y2="1658.1" stroke="#484848" stroke-width="1.3" stroke-linecap="butt"/>
<line x1="1781.7" y1="1732.6" x2="1781.7" y2="1746.6" stroke="#484848" stroke-width="1.3" stroke-linecap="butt"/>
<line x1="1774.4" y1="1732.6" x2="1789.0" y2="1732.6" stroke="#484848" stroke-width="1.3" stroke-linecap="butt"/>
<line x1="1774.4" y1="1746.6" x2="1789.0" y2="1746.6" stroke="#484848" stroke-width="1.3" stroke-linecap="butt"/>
<polyline points="1341.6,1399.7 1451.3,1442.9 1561.5,1577.4 1671.6,1641.7 1781.7,1739.6" fill="none" stroke="#484848" stroke-width="1.7" stroke-linejoin="round"/>
<circle cx="1341.6" cy="1399.7" r="5.3" fill="#fff" stroke="#222" stroke-width="2.0"/>
<circle cx="1451.3" cy="1442.9" r="5.3" fill="#fff" stroke="#222" stroke-width="2.0"/>
<circle cx="1561.5" cy="1577.4" r="5.3" fill="#fff" stroke="#222" stroke-width="2.0"/>
<circle cx="1671.6" cy="1641.7" r="5.3" fill="#fff" stroke="#222" stroke-width="2.0"/>
<circle cx="1781.7" cy="1739.6" r="5.3" fill="#fff" stroke="#222" stroke-width="2.0"/>
<line x1="1451.3" y1="1391.7" x2="1451.3" y2="1422.7" stroke="#484848" stroke-width="1.3" stroke-linecap="butt"/>
<line x1="1444.0" y1="1391.7" x2="1458.6" y2="1391.7" stroke="#484848" stroke-width="1.3" stroke-linecap="butt"/>
<line x1="1444.0" y1="1422.7" x2="1458.6" y2="1422.7" stroke="#484848" stroke-width="1.3" stroke-linecap="butt"/>
<line x1="1561.5" y1="1419.7" x2="1561.5" y2="1454.3" stroke="#484848" stroke-width="1.3" stroke-linecap="butt"/>
<line x1="1554.2" y1="1419.7" x2="1568.8" y2="1419.7" stroke="#484848" stroke-width="1.3" stroke-linecap="butt"/>
<line x1="1554.2" y1="1454.3" x2="1568.8" y2="1454.3" stroke="#484848" stroke-width="1.3" stroke-linecap="butt"/>
<line x1="1671.6" y1="1528.2" x2="1671.6" y2="1558.2" stroke="#484848" stroke-width="1.3" stroke-linecap="butt"/>
<line x1="1664.3" y1="1528.2" x2="1678.9" y2="1528.2" stroke="#484848" stroke-width="1.3" stroke-linecap="butt"/>
<line x1="1664.3" y1="1558.2" x2="1678.9" y2="1558.2" stroke="#484848" stroke-width="1.3" stroke-linecap="butt"/>
<line x1="1781.7" y1="1694.6" x2="1781.7" y2="1712.6" stroke="#484848" stroke-width="1.3" stroke-linecap="butt"/>
<line x1="1774.4" y1="1694.6" x2="1789.0" y2="1694.6" stroke="#484848" stroke-width="1.3" stroke-linecap="butt"/>
<line x1="1774.4" y1="1712.6" x2="1789.0" y2="1712.6" stroke="#484848" stroke-width="1.3" stroke-linecap="butt"/>
<polyline points="1341.6,1399.7 1451.3,1407.2 1561.5,1437.0 1671.6,1543.2 1781.7,1703.6" fill="none" stroke="#484848" stroke-width="1.7" stroke-linejoin="round"/>
<polygon points="1334.8,1395.2 1348.4,1395.2 1341.6,1406.0" fill="#0d0d0d"/>
<polygon points="1444.5,1402.7 1458.1,1402.7 1451.3,1413.5" fill="#0d0d0d"/>
<polygon points="1554.7,1432.5 1568.3,1432.5 1561.5,1443.3" fill="#0d0d0d"/>
<polygon points="1664.8,1538.7 1678.4,1538.7 1671.6,1549.5" fill="#0d0d0d"/>
<polygon points="1774.9,1699.1 1788.5,1699.1 1781.7,1709.9" fill="#0d0d0d"/>
<circle cx="1341.6" cy="1399.7" r="6.1" fill="#0d0d0d"/>
<polygon points="1334.8,1395.2 1348.4,1395.2 1341.6,1406.0" fill="#0d0d0d"/>
<line x1="1341.6" y1="1960.2" x2="1341.6" y2="2399.4" stroke="#484848" stroke-width="1.6" stroke-linecap="butt"/>
<line x1="1340.8" y1="2392.4" x2="1892.0" y2="2392.4" stroke="#484848" stroke-width="1.6" stroke-linecap="butt"/>
<line x1="1334.4" y1="1961.0" x2="1341.6" y2="1961.0" stroke="#484848" stroke-width="1.6" stroke-linecap="butt"/>
<text x="1331.0" y="1971.0" font-size="26.3" text-anchor="end" font-weight="normal" fill="#3a3a3a" stroke="#3a3a3a" stroke-width="0.55" >120</text>
<line x1="1334.4" y1="2033.6" x2="1341.6" y2="2033.6" stroke="#484848" stroke-width="1.6" stroke-linecap="butt"/>
<text x="1331.0" y="2043.6" font-size="26.3" text-anchor="end" font-weight="normal" fill="#3a3a3a" stroke="#3a3a3a" stroke-width="0.55" >100</text>
<line x1="1334.4" y1="2106.2" x2="1341.6" y2="2106.2" stroke="#484848" stroke-width="1.6" stroke-linecap="butt"/>
<text x="1331.0" y="2116.2" font-size="26.3" text-anchor="end" font-weight="normal" fill="#3a3a3a" stroke="#3a3a3a" stroke-width="0.55" >80</text>
<line x1="1334.4" y1="2178.8" x2="1341.6" y2="2178.8" stroke="#484848" stroke-width="1.6" stroke-linecap="butt"/>
<text x="1331.0" y="2188.8" font-size="26.3" text-anchor="end" font-weight="normal" fill="#3a3a3a" stroke="#3a3a3a" stroke-width="0.55" >60</text>
<line x1="1334.4" y1="2251.1" x2="1341.6" y2="2251.1" stroke="#484848" stroke-width="1.6" stroke-linecap="butt"/>
<text x="1331.0" y="2261.1" font-size="26.3" text-anchor="end" font-weight="normal" fill="#3a3a3a" stroke="#3a3a3a" stroke-width="0.55" >40</text>
<line x1="1334.4" y1="2323.8" x2="1341.6" y2="2323.8" stroke="#484848" stroke-width="1.6" stroke-linecap="butt"/>
<text x="1331.0" y="2333.8" font-size="26.3" text-anchor="end" font-weight="normal" fill="#3a3a3a" stroke="#3a3a3a" stroke-width="0.55" >20</text>
<text x="1331.0" y="2402.4" font-size="26.3" text-anchor="end" font-weight="normal" fill="#3a3a3a" stroke="#3a3a3a" stroke-width="0.55" >0</text>
<line x1="1451.3" y1="2392.4" x2="1451.3" y2="2399.4" stroke="#484848" stroke-width="1.6" stroke-linecap="butt"/>
<text x="1451.6" y="2423.6" font-size="26.5" text-anchor="middle" font-weight="normal" fill="#3a3a3a" stroke="#3a3a3a" stroke-width="0.55" >0.1</text>
<line x1="1561.5" y1="2392.4" x2="1561.5" y2="2399.4" stroke="#484848" stroke-width="1.6" stroke-linecap="butt"/>
<text x="1561.8" y="2423.6" font-size="26.5" text-anchor="middle" font-weight="normal" fill="#3a3a3a" stroke="#3a3a3a" stroke-width="0.55" >0.5</text>
<line x1="1671.6" y1="2392.4" x2="1671.6" y2="2399.4" stroke="#484848" stroke-width="1.6" stroke-linecap="butt"/>
<text x="1671.9" y="2423.6" font-size="26.5" text-anchor="middle" font-weight="normal" fill="#3a3a3a" stroke="#3a3a3a" stroke-width="0.55" >1.0</text>
<line x1="1781.7" y1="2392.4" x2="1781.7" y2="2399.4" stroke="#484848" stroke-width="1.6" stroke-linecap="butt"/>
<text x="1782.0" y="2423.6" font-size="26.5" text-anchor="middle" font-weight="normal" fill="#3a3a3a" stroke="#3a3a3a" stroke-width="0.55" >5.0</text>
<text y="2467.1" font-size="35.2" fill="#3a3a3a" stroke="#3a3a3a" stroke-width="0.55"><tspan x="1558.5">B</tspan><tspan x="1582.4" dy="12.5" font-size="24.5">1</tspan><tspan x="1594.5" dy="-12.5"> </tspan><tspan x="1604.6" textLength="75.5" lengthAdjust="spacingAndGlyphs">(μM)</tspan></text>
<text transform="translate(1257.1,2175.4) rotate(-90)" font-size="35" text-anchor="middle" fill="#3a3a3a" stroke="#3a3a3a" stroke-width="0.55" textLength="238" lengthAdjust="spacingAndGlyphs">Cell viability (%)</text>
<text x="1594.4" y="1943.6" font-size="41" text-anchor="middle" fill="#2a2a2a" stroke="#2a2a2a" stroke-width="0.5" textLength="52.9" lengthAdjust="spacing">C6</text>
<rect x="1750.2" y="1995.0" width="148.3" height="104.9" fill="#fff" stroke="#444" stroke-width="2.2"/>
<line x1="1764.1" y1="2021.4" x2="1810.7" y2="2021.4" stroke="#484848" stroke-width="1.6" stroke-linecap="butt"/>
<circle cx="1787.6" cy="2021.4" r="6.8" fill="#0d0d0d"/>
<text x="1816.6" y="2029.3" font-size="22" text-anchor="start" font-weight="normal" fill="#3a3a3a" stroke="#3a3a3a" stroke-width="0.55" letter-spacing="1.5">B1</text>
<line x1="1764.1" y1="2047.1" x2="1810.7" y2="2047.1" stroke="#484848" stroke-width="1.6" stroke-linecap="butt"/>
<circle cx="1787.6" cy="2047.1" r="5.9" fill="#fff" stroke="#222" stroke-width="2.0"/>
<text x="1816.6" y="2055.0" font-size="22" text-anchor="start" font-weight="normal" fill="#3a3a3a" stroke="#3a3a3a" stroke-width="0.55" letter-spacing="1.5">TSA</text>
<line x1="1764.1" y1="2072.6" x2="1810.7" y2="2072.6" stroke="#484848" stroke-width="1.6" stroke-linecap="butt"/>
<polygon points="1781.0,2069.4 1794.2,2069.4 1787.6,2081.2" fill="#0d0d0d"/>
<text x="1816.6" y="2080.5" font-size="22" text-anchor="start" font-weight="normal" fill="#3a3a3a" stroke="#3a3a3a" stroke-width="0.55" letter-spacing="1.5">SAHA</text>
<line x1="1451.3" y1="2075.6" x2="1451.3" y2="2101.2" stroke="#484848" stroke-width="1.3" stroke-linecap="butt"/>
<line x1="1444.0" y1="2075.6" x2="1458.6" y2="2075.6" stroke="#484848" stroke-width="1.3" stroke-linecap="butt"/>
<line x1="1444.0" y1="2101.2" x2="1458.6" y2="2101.2" stroke="#484848" stroke-width="1.3" stroke-linecap="butt"/>
<line x1="1561.5" y1="2229.4" x2="1561.5" y2="2258.6" stroke="#484848" stroke-width="1.3" stroke-linecap="butt"/>
<line x1="1554.2" y1="2229.4" x2="1568.8" y2="2229.4" stroke="#484848" stroke-width="1.3" stroke-linecap="butt"/>
<line x1="1554.2" y1="2258.6" x2="1568.8" y2="2258.6" stroke="#484848" stroke-width="1.3" stroke-linecap="butt"/>
<line x1="1671.6" y1="2281.1" x2="1671.6" y2="2301.1" stroke="#484848" stroke-width="1.3" stroke-linecap="butt"/>
<line x1="1664.3" y1="2281.1" x2="1678.9" y2="2281.1" stroke="#484848" stroke-width="1.3" stroke-linecap="butt"/>
<line x1="1664.3" y1="2301.1" x2="1678.9" y2="2301.1" stroke="#484848" stroke-width="1.3" stroke-linecap="butt"/>
<line x1="1781.7" y1="2341.3" x2="1781.7" y2="2365.3" stroke="#484848" stroke-width="1.3" stroke-linecap="butt"/>
<line x1="1774.4" y1="2341.3" x2="1789.0" y2="2341.3" stroke="#484848" stroke-width="1.3" stroke-linecap="butt"/>
<line x1="1774.4" y1="2365.3" x2="1789.0" y2="2365.3" stroke="#484848" stroke-width="1.3" stroke-linecap="butt"/>
<polyline points="1341.6,2033.3 1451.3,2088.4 1561.5,2244.0 1671.6,2291.1 1781.7,2353.3" fill="none" stroke="#484848" stroke-width="1.7" stroke-linejoin="round"/>
<circle cx="1341.6" cy="2033.3" r="6.1" fill="#0d0d0d"/>
<circle cx="1451.3" cy="2088.4" r="6.1" fill="#0d0d0d"/>
<circle cx="1561.5" cy="2244.0" r="6.1" fill="#0d0d0d"/>
<circle cx="1671.6" cy="2291.1" r="6.1" fill="#0d0d0d"/>
<circle cx="1781.7" cy="2353.3" r="6.1" fill="#0d0d0d"/>
<line x1="1451.3" y1="2127.0" x2="1451.3" y2="2151.0" stroke="#484848" stroke-width="1.3" stroke-linecap="butt"/>
<line x1="1444.0" y1="2127.0" x2="1458.6" y2="2127.0" stroke="#484848" stroke-width="1.3" stroke-linecap="butt"/>
<line x1="1444.0" y1="2151.0" x2="1458.6" y2="2151.0" stroke="#484848" stroke-width="1.3" stroke-linecap="butt"/>
<line x1="1561.5" y1="2285.3" x2="1561.5" y2="2311.7" stroke="#484848" stroke-width="1.3" stroke-linecap="butt"/>
<line x1="1554.2" y1="2285.3" x2="1568.8" y2="2285.3" stroke="#484848" stroke-width="1.3" stroke-linecap="butt"/>
<line x1="1554.2" y1="2311.7" x2="1568.8" y2="2311.7" stroke="#484848" stroke-width="1.3" stroke-linecap="butt"/>
<line x1="1671.6" y1="2321.1" x2="1671.6" y2="2348.5" stroke="#484848" stroke-width="1.3" stroke-linecap="butt"/>
<line x1="1664.3" y1="2321.1" x2="1678.9" y2="2321.1" stroke="#484848" stroke-width="1.3" stroke-linecap="butt"/>
<line x1="1664.3" y1="2348.5" x2="1678.9" y2="2348.5" stroke="#484848" stroke-width="1.3" stroke-linecap="butt"/>
<line x1="1781.7" y1="2357.1" x2="1781.7" y2="2369.1" stroke="#484848" stroke-width="1.3" stroke-linecap="butt"/>
<line x1="1774.4" y1="2357.1" x2="1789.0" y2="2357.1" stroke="#484848" stroke-width="1.3" stroke-linecap="butt"/>
<line x1="1774.4" y1="2369.1" x2="1789.0" y2="2369.1" stroke="#484848" stroke-width="1.3" stroke-linecap="butt"/>
<polyline points="1341.6,2033.3 1451.3,2139.0 1561.5,2298.5 1671.6,2334.8 1781.7,2363.1" fill="none" stroke="#484848" stroke-width="1.7" stroke-linejoin="round"/>
<circle cx="1341.6" cy="2033.3" r="5.3" fill="#fff" stroke="#222" stroke-width="2.0"/>
<circle cx="1451.3" cy="2139.0" r="5.3" fill="#fff" stroke="#222" stroke-width="2.0"/>
<circle cx="1561.5" cy="2298.5" r="5.3" fill="#fff" stroke="#222" stroke-width="2.0"/>
<circle cx="1671.6" cy="2334.8" r="5.3" fill="#fff" stroke="#222" stroke-width="2.0"/>
<circle cx="1781.7" cy="2363.1" r="5.3" fill="#fff" stroke="#222" stroke-width="2.0"/>
<line x1="1451.3" y1="2047.0" x2="1451.3" y2="2079.8" stroke="#484848" stroke-width="1.3" stroke-linecap="butt"/>
<line x1="1444.0" y1="2047.0" x2="1458.6" y2="2047.0" stroke="#484848" stroke-width="1.3" stroke-linecap="butt"/>
<line x1="1444.0" y1="2079.8" x2="1458.6" y2="2079.8" stroke="#484848" stroke-width="1.3" stroke-linecap="butt"/>
<line x1="1561.5" y1="2114.3" x2="1561.5" y2="2143.5" stroke="#484848" stroke-width="1.3" stroke-linecap="butt"/>
<line x1="1554.2" y1="2114.3" x2="1568.8" y2="2114.3" stroke="#484848" stroke-width="1.3" stroke-linecap="butt"/>
<line x1="1554.2" y1="2143.5" x2="1568.8" y2="2143.5" stroke="#484848" stroke-width="1.3" stroke-linecap="butt"/>
<line x1="1671.6" y1="2191.3" x2="1671.6" y2="2225.3" stroke="#484848" stroke-width="1.3" stroke-linecap="butt"/>
<line x1="1664.3" y1="2191.3" x2="1678.9" y2="2191.3" stroke="#484848" stroke-width="1.3" stroke-linecap="butt"/>
<line x1="1664.3" y1="2225.3" x2="1678.9" y2="2225.3" stroke="#484848" stroke-width="1.3" stroke-linecap="butt"/>
<line x1="1781.7" y1="2361.5" x2="1781.7" y2="2379.5" stroke="#484848" stroke-width="1.3" stroke-linecap="butt"/>
<line x1="1774.4" y1="2361.5" x2="1789.0" y2="2361.5" stroke="#484848" stroke-width="1.3" stroke-linecap="butt"/>
<line x1="1774.4" y1="2379.5" x2="1789.0" y2="2379.5" stroke="#484848" stroke-width="1.3" stroke-linecap="butt"/>
<polyline points="1341.6,2033.3 1451.3,2063.4 1561.5,2128.9 1671.6,2208.3 1781.7,2370.5" fill="none" stroke="#484848" stroke-width="1.7" stroke-linejoin="round"/>
<polygon points="1334.8,2028.8 1348.4,2028.8 1341.6,2039.6" fill="#0d0d0d"/>
<polygon points="1444.5,2058.9 1458.1,2058.9 1451.3,2069.7" fill="#0d0d0d"/>
<polygon points="1554.7,2124.4 1568.3,2124.4 1561.5,2135.2" fill="#0d0d0d"/>
<polygon points="1664.8,2203.8 1678.4,2203.8 1671.6,2214.6" fill="#0d0d0d"/>
<polygon points="1774.9,2366.0 1788.5,2366.0 1781.7,2376.8" fill="#0d0d0d"/>
<circle cx="1341.6" cy="2033.3" r="6.1" fill="#0d0d0d"/>
<polygon points="1334.8,2028.8 1348.4,2028.8 1341.6,2039.6" fill="#0d0d0d"/>
</g>
</svg>
</body></html>
